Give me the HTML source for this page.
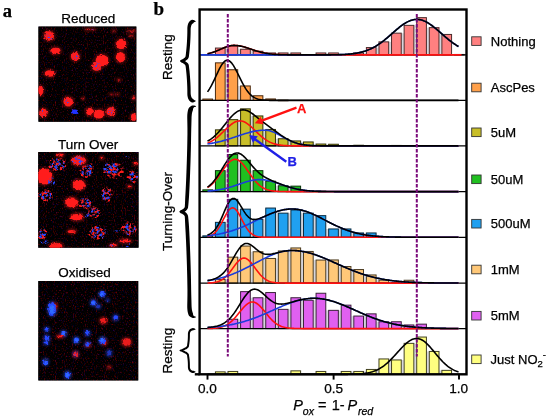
<!DOCTYPE html>
<html><head><meta charset="utf-8"><style>
html,body{margin:0;padding:0;background:#fff;width:550px;height:420px;overflow:hidden;}
svg{display:block;font-family:"Liberation Sans",sans-serif;will-change:transform;}
text{stroke:#000;stroke-width:.25px;}
text.r{stroke:#ff1010;}
text.b{stroke:#2020e6;}
</style></head><body>
<svg width="550" height="420" viewBox="0 0 550 420">
<defs><filter id="bl1" x="-50%" y="-50%" width="200%" height="200%"><feGaussianBlur stdDeviation="1.1"/></filter><filter id="bl2" x="-50%" y="-50%" width="200%" height="200%"><feGaussianBlur stdDeviation="0.6"/></filter><filter id="rough" x="-30%" y="-30%" width="160%" height="160%"><feTurbulence type="fractalNoise" baseFrequency="0.45" numOctaves="2" seed="2" result="n"/><feDisplacementMap in="SourceGraphic" in2="n" scale="3.5" xChannelSelector="R" yChannelSelector="G" result="d"/><feGaussianBlur in="d" stdDeviation="0.75"/></filter><filter id="speck" x="-30%" y="-30%" width="160%" height="160%"><feTurbulence type="fractalNoise" baseFrequency="0.7" numOctaves="1" seed="5" result="n"/><feColorMatrix in="n" type="matrix" values="0 0 0 0 0 0 0 0 0 0 0 0 0 0 0 5 0 0 0 -2.2" result="m"/><feComposite in="SourceGraphic" in2="m" operator="in" result="c"/><feGaussianBlur in="c" stdDeviation="0.45"/></filter><filter id="speck2" x="-30%" y="-30%" width="160%" height="160%"><feTurbulence type="fractalNoise" baseFrequency="0.8" numOctaves="1" seed="9" result="n"/><feColorMatrix in="n" type="matrix" values="0 0 0 0 0 0 0 0 0 0 0 0 0 0 0 6 0 0 0 -3.3" result="m"/><feComposite in="SourceGraphic" in2="m" operator="in" result="c"/><feGaussianBlur in="c" stdDeviation="0.4"/></filter><filter id="speck3" x="-30%" y="-30%" width="160%" height="160%"><feTurbulence type="fractalNoise" baseFrequency="0.38" numOctaves="2" seed="11" result="n"/><feTurbulence type="fractalNoise" baseFrequency="0.3" numOctaves="2" seed="13" result="n2"/><feDisplacementMap in="SourceGraphic" in2="n2" scale="4" xChannelSelector="R" yChannelSelector="G" result="sg"/><feColorMatrix in="n" type="matrix" values="0 0 0 0 0 0 0 0 0 0 0 0 0 0 0 5 0 0 0 -2.35" result="m"/><feComposite in="sg" in2="m" operator="in" result="c"/><feGaussianBlur in="c" stdDeviation="0.5"/></filter><filter id="rspeck" x="-30%" y="-30%" width="160%" height="160%"><feTurbulence type="fractalNoise" baseFrequency="0.38" numOctaves="2" seed="21" result="n"/><feTurbulence type="fractalNoise" baseFrequency="0.3" numOctaves="2" seed="17" result="n2"/><feDisplacementMap in="SourceGraphic" in2="n2" scale="4.5" xChannelSelector="R" yChannelSelector="G" result="sg"/><feColorMatrix in="n" type="matrix" values="0 0 0 0 0 0 0 0 0 0 0 0 0 0 0 0 5 0 0 -2.25" result="m"/><feComposite in="sg" in2="m" operator="in" result="c"/><feGaussianBlur in="c" stdDeviation="0.45"/></filter><filter id="bgn" x="0" y="0" width="100%" height="100%" color-interpolation-filters="sRGB"><feTurbulence type="fractalNoise" baseFrequency="0.9 0.5" numOctaves="2" seed="31" result="n"/><feColorMatrix in="n" type="matrix" values="1.3 0 0 0 -0.70  0 0 0 0 0  0 0.9 0 0 -0.53  0 0 0 0 1"/><feGaussianBlur stdDeviation="0.45"/></filter><filter id="soft" x="-40%" y="-40%" width="180%" height="180%"><feTurbulence type="fractalNoise" baseFrequency="0.45" numOctaves="2" seed="4" result="n"/><feDisplacementMap in="SourceGraphic" in2="n" scale="2.5" xChannelSelector="R" yChannelSelector="G" result="d"/><feGaussianBlur in="d" stdDeviation="1.0"/></filter><clipPath id="c1"><rect x="38.4" y="26.4" width="98" height="95.4"/></clipPath><clipPath id="c2"><rect x="38.2" y="152" width="100.4" height="95.7"/></clipPath><clipPath id="c3"><rect x="38.3" y="280.9" width="100" height="99.6"/></clipPath></defs>
<rect width="550" height="420" fill="#fff"/>
<text x="2.7" y="16.6" font-family="Liberation Serif, serif" font-weight="bold" font-size="18.5">a</text>
<text x="153.6" y="15" font-family="Liberation Serif, serif" font-weight="bold" font-size="19">b</text>
<text x="88.3" y="23.4" font-family="Liberation Sans, sans-serif" font-size="13.5" text-anchor="middle">Reduced</text>
<text x="88.2" y="149" font-family="Liberation Sans, sans-serif" font-size="13.5" text-anchor="middle">Turn Over</text>
<text x="84.6" y="277.3" font-family="Liberation Sans, sans-serif" font-size="13.5" text-anchor="middle">Oxidised</text>
<g clip-path="url(#c1)">
<rect x="38.4" y="26.4" width="98" height="95.4" fill="#000"/>
<rect x="38.4" y="26.4" width="98" height="95.4" fill="#000" filter="url(#bgn)"/>
<g filter="url(#bl1)" opacity="0.3">
<ellipse cx="49.1" cy="35.9" rx="6.53" ry="6.35" fill="#ff1e1e"/>
<ellipse cx="55.6" cy="50.8" rx="6.88" ry="4.77" fill="#ff1e1e"/>
<ellipse cx="75.2" cy="56.5" rx="5.82" ry="6" fill="#ff1e1e"/>
<ellipse cx="102" cy="60.5" rx="7.94" ry="7.41" fill="#ff1e1e"/>
<ellipse cx="96.5" cy="66.5" rx="6.18" ry="6" fill="#ff1e1e"/>
<ellipse cx="121.1" cy="44.2" rx="6.7" ry="6.7" fill="#ff1e1e"/>
<ellipse cx="120.5" cy="57.3" rx="6.18" ry="6.7" fill="#ff1e1e"/>
<ellipse cx="49.6" cy="73.5" rx="6.53" ry="4.77" fill="#ff1e1e"/>
<ellipse cx="40.6" cy="90.6" rx="4.06" ry="6.35" fill="#ff1e1e"/>
<ellipse cx="68.2" cy="101.7" rx="6.35" ry="6.35" fill="#ff1e1e"/>
<ellipse cx="43.4" cy="112.9" rx="5.82" ry="5.82" fill="#ff1e1e"/>
<ellipse cx="89.7" cy="111.7" rx="5.12" ry="5.3" fill="#ff1e1e"/>
<ellipse cx="99" cy="114.1" rx="6.88" ry="6" fill="#ff1e1e"/>
<ellipse cx="110.8" cy="111.7" rx="6" ry="6" fill="#ff1e1e"/>
<ellipse cx="133.6" cy="117.2" rx="4.24" ry="5.3" fill="#ff1e1e"/>
<ellipse cx="133.7" cy="98" rx="3.01" ry="3.01" fill="#ff1e1e"/>
<ellipse cx="118.8" cy="80" rx="2.66" ry="2.39" fill="#ff1e1e"/>
<ellipse cx="83.1" cy="98.6" rx="2.48" ry="2.48" fill="#ff1e1e"/>
<ellipse cx="131.2" cy="31.1" rx="5.82" ry="2.22" fill="#ff1e1e"/>
<ellipse cx="131.2" cy="35.9" rx="3.54" ry="2.22" fill="#ff1e1e"/>
<ellipse cx="90.8" cy="29.4" rx="6" ry="2.04" fill="#ff1e1e"/>
<ellipse cx="114" cy="31.1" rx="2.66" ry="2.3" fill="#ff1e1e"/>
<ellipse cx="111.4" cy="94.3" rx="2.92" ry="2.04" fill="#ff1e1e"/>
<ellipse cx="117.6" cy="94.3" rx="2.92" ry="2.04" fill="#ff1e1e"/>
<ellipse cx="87.1" cy="29.4" rx="3.36" ry="2.13" fill="#ff1e1e"/>
</g>
<g filter="url(#rough)">
<ellipse cx="49.1" cy="35.9" rx="4.93" ry="4.75" fill="#ff1e1e" opacity="1"/>
<ellipse cx="55.6" cy="50.8" rx="5.28" ry="3.17" fill="#ff1e1e" opacity="1"/>
<ellipse cx="75.2" cy="56.5" rx="4.22" ry="4.4" fill="#ff1e1e" opacity="1"/>
<ellipse cx="102" cy="60.5" rx="6.34" ry="5.81" fill="#ff1e1e" opacity="1"/>
<ellipse cx="96.5" cy="66.5" rx="4.58" ry="4.4" fill="#ff1e1e" opacity="1"/>
<ellipse cx="121.1" cy="44.2" rx="5.1" ry="5.1" fill="#ff1e1e" opacity="1"/>
<ellipse cx="120.5" cy="57.3" rx="4.58" ry="5.1" fill="#ff1e1e" opacity="1"/>
<ellipse cx="49.6" cy="73.5" rx="4.93" ry="3.17" fill="#ff1e1e" opacity="1"/>
<ellipse cx="40.6" cy="90.6" rx="2.46" ry="4.75" fill="#ff1e1e" opacity="1"/>
<ellipse cx="68.2" cy="101.7" rx="4.75" ry="4.75" fill="#ff1e1e" opacity="1"/>
<ellipse cx="43.4" cy="112.9" rx="4.22" ry="4.22" fill="#ff1e1e" opacity="1"/>
<ellipse cx="89.7" cy="111.7" rx="3.52" ry="3.7" fill="#ff1e1e" opacity="1"/>
<ellipse cx="99" cy="114.1" rx="5.28" ry="4.4" fill="#ff1e1e" opacity="1"/>
<ellipse cx="110.8" cy="111.7" rx="4.4" ry="4.4" fill="#ff1e1e" opacity="1"/>
<ellipse cx="133.6" cy="117.2" rx="2.64" ry="3.7" fill="#ff1e1e" opacity="1"/>
<ellipse cx="133.7" cy="98" rx="1.41" ry="1.41" fill="#ff1e1e" opacity="0.8"/>
<ellipse cx="118.8" cy="80" rx="1.06" ry="0.79" fill="#ff1e1e" opacity="0.7"/>
<ellipse cx="83.1" cy="98.6" rx="0.88" ry="0.88" fill="#ff1e1e" opacity="0.6"/>
<ellipse cx="75" cy="111.7" rx="3.17" ry="2.29" fill="#2030ff" opacity="1"/>
<ellipse cx="131.2" cy="31.1" rx="4.22" ry="0.62" fill="#ff1e1e" opacity="0.8"/>
<ellipse cx="131.2" cy="35.9" rx="1.94" ry="0.62" fill="#ff1e1e" opacity="0.7"/>
<ellipse cx="90.8" cy="29.4" rx="4.4" ry="0.44" fill="#ff1e1e" opacity="0.6"/>
<ellipse cx="114" cy="31.1" rx="1.06" ry="0.7" fill="#ff1e1e" opacity="0.5"/>
<ellipse cx="111.4" cy="94.3" rx="1.32" ry="0.44" fill="#ff1e1e" opacity="0.6"/>
<ellipse cx="117.6" cy="94.3" rx="1.32" ry="0.44" fill="#ff1e1e" opacity="0.6"/>
<ellipse cx="87.1" cy="29.4" rx="1.76" ry="0.53" fill="#ff1e1e" opacity="0.7"/>
</g>
<g filter="url(#speck2)">
<ellipse cx="68.2" cy="100.5" rx="2.99" ry="2.82" fill="#2848ff" opacity="1"/>
<ellipse cx="43.4" cy="112.9" rx="2.82" ry="2.82" fill="#2848ff" opacity="1"/>
<ellipse cx="75.2" cy="56.5" rx="2.99" ry="2.99" fill="#2848ff" opacity="1"/>
<ellipse cx="49.1" cy="36.5" rx="3.7" ry="3.7" fill="#2848ff" opacity="1"/>
<ellipse cx="97" cy="66" rx="3.96" ry="3.96" fill="#2848ff" opacity="1"/>
<ellipse cx="110.8" cy="111.7" rx="3.08" ry="3.08" fill="#2848ff" opacity="1"/>
<ellipse cx="90.8" cy="29.4" rx="4.4" ry="0.53" fill="#2848ff" opacity="0.8"/>
</g>
</g>
<g clip-path="url(#c2)">
<rect x="38.2" y="152" width="100.4" height="95.7" fill="#000"/>
<rect x="38.2" y="152" width="100.4" height="95.7" fill="#000" filter="url(#bgn)"/>
<g filter="url(#bl1)" opacity="0.35">
<ellipse cx="78.9" cy="160.7" rx="8.8" ry="6" fill="#ff1e1e"/>
<ellipse cx="60.3" cy="155" rx="5.1" ry="3.2" fill="#ff1e1e"/>
<ellipse cx="44.3" cy="176.5" rx="9.2" ry="9.6" fill="#ff1e1e"/>
<ellipse cx="78.9" cy="185" rx="7.6" ry="6.6" fill="#ff1e1e"/>
<ellipse cx="136" cy="163.6" rx="3.8" ry="2.6" fill="#ff1e1e"/>
<ellipse cx="101.7" cy="157.9" rx="2.9" ry="2.6" fill="#ff1e1e"/>
<ellipse cx="129.6" cy="186.4" rx="3.6" ry="2.4" fill="#ff1e1e"/>
<ellipse cx="71.7" cy="202.5" rx="7.9" ry="6.6" fill="#ff1e1e"/>
<ellipse cx="77" cy="217.2" rx="7.9" ry="4.9" fill="#ff1e1e"/>
<ellipse cx="71.7" cy="231.5" rx="5.6" ry="3.2" fill="#ff1e1e"/>
<ellipse cx="56.2" cy="246" rx="8.1" ry="4.6" fill="#ff1e1e"/>
<ellipse cx="125.2" cy="241" rx="7.6" ry="3.1" fill="#ff1e1e"/>
<ellipse cx="113.3" cy="245.2" rx="5.1" ry="2.8" fill="#ff1e1e"/>
</g>
<g filter="url(#rough)">
<ellipse cx="78.9" cy="160.7" rx="7.2" ry="4.4" fill="#ff1e1e" opacity="1"/>
<ellipse cx="60.3" cy="155" rx="3.5" ry="1.6" fill="#ff1e1e" opacity="1"/>
<ellipse cx="44.3" cy="176.5" rx="7.6" ry="8" fill="#ff1e1e" opacity="1"/>
<ellipse cx="78.9" cy="185" rx="6" ry="5" fill="#ff1e1e" opacity="1"/>
<ellipse cx="136" cy="163.6" rx="2.2" ry="1" fill="#ff1e1e" opacity="1"/>
<ellipse cx="101.7" cy="157.9" rx="1.3" ry="1" fill="#ff1e1e" opacity="1"/>
<ellipse cx="129.6" cy="186.4" rx="2" ry="0.8" fill="#ff1e1e" opacity="1"/>
<ellipse cx="71.7" cy="202.5" rx="6.3" ry="5" fill="#ff1e1e" opacity="1"/>
<ellipse cx="77" cy="217.2" rx="6.3" ry="3.3" fill="#ff1e1e" opacity="1"/>
<ellipse cx="71.7" cy="231.5" rx="4" ry="1.6" fill="#ff1e1e" opacity="1"/>
<ellipse cx="56.2" cy="246" rx="6.5" ry="3" fill="#ff1e1e" opacity="1"/>
<ellipse cx="125.2" cy="241" rx="6" ry="1.5" fill="#ff1e1e" opacity="1"/>
<ellipse cx="113.3" cy="245.2" rx="3.5" ry="1.2" fill="#ff1e1e" opacity="1"/>
</g>
<g filter="url(#rspeck)">
<ellipse cx="57.4" cy="164.5" rx="9.1" ry="6.5" fill="#ff1e1e" opacity="1"/>
<ellipse cx="45.3" cy="195.7" rx="7.54" ry="6.24" fill="#ff1e1e" opacity="1"/>
<ellipse cx="86" cy="171.4" rx="5.72" ry="6.5" fill="#ff1e1e" opacity="1"/>
<ellipse cx="88.9" cy="170" rx="4.16" ry="7.15" fill="#ff1e1e" opacity="1"/>
<ellipse cx="113.9" cy="170.7" rx="10.14" ry="8.06" fill="#ff1e1e" opacity="1"/>
<ellipse cx="133.1" cy="177.1" rx="5.2" ry="5.98" fill="#ff1e1e" opacity="1"/>
<ellipse cx="106.7" cy="194.3" rx="5.98" ry="7.02" fill="#ff1e1e" opacity="1"/>
<ellipse cx="84.8" cy="203.6" rx="6.5" ry="5.72" fill="#ff1e1e" opacity="1"/>
<ellipse cx="93.7" cy="212.5" rx="6.5" ry="5.72" fill="#ff1e1e" opacity="1"/>
<ellipse cx="41.4" cy="233.9" rx="5.2" ry="5.98" fill="#ff1e1e" opacity="1"/>
<ellipse cx="97.3" cy="232.7" rx="8.32" ry="7.02" fill="#ff1e1e" opacity="1"/>
<ellipse cx="128.8" cy="228.5" rx="8.32" ry="6.24" fill="#ff1e1e" opacity="1"/>
</g>
<g filter="url(#speck3)">
<ellipse cx="57" cy="164" rx="7.54" ry="5.46" fill="#2848ff" opacity="1"/>
<ellipse cx="78" cy="160.5" rx="6.24" ry="4.16" fill="#2848ff" opacity="1"/>
<ellipse cx="51.5" cy="181.5" rx="3.64" ry="4.94" fill="#2848ff" opacity="1"/>
<ellipse cx="45.3" cy="195.7" rx="5.98" ry="4.68" fill="#2848ff" opacity="1"/>
<ellipse cx="86.5" cy="171" rx="4.94" ry="4.94" fill="#2848ff" opacity="1"/>
<ellipse cx="89" cy="170" rx="3.12" ry="5.2" fill="#2848ff" opacity="1"/>
<ellipse cx="111" cy="168.5" rx="8.06" ry="5.98" fill="#2848ff" opacity="1"/>
<ellipse cx="133.1" cy="176.5" rx="4.16" ry="4.68" fill="#2848ff" opacity="1"/>
<ellipse cx="106.7" cy="194.3" rx="4.94" ry="5.72" fill="#2848ff" opacity="1"/>
<ellipse cx="128.9" cy="156.4" rx="3.25" ry="1.04" fill="#2848ff" opacity="1"/>
<ellipse cx="86" cy="203" rx="5.2" ry="4.68" fill="#2848ff" opacity="1"/>
<ellipse cx="93.7" cy="212.5" rx="4.94" ry="4.68" fill="#2848ff" opacity="1"/>
<ellipse cx="41.4" cy="233.5" rx="4.16" ry="4.42" fill="#2848ff" opacity="1"/>
<ellipse cx="44.3" cy="241.6" rx="3.64" ry="2.6" fill="#2848ff" opacity="1"/>
<ellipse cx="87.1" cy="215.5" rx="1.82" ry="1.82" fill="#2848ff" opacity="1"/>
<ellipse cx="97.3" cy="232.7" rx="6.76" ry="5.98" fill="#2848ff" opacity="1"/>
<ellipse cx="105" cy="231.5" rx="3.12" ry="2.08" fill="#2848ff" opacity="1"/>
<ellipse cx="129.5" cy="229.5" rx="5.98" ry="4.68" fill="#2848ff" opacity="1"/>
<ellipse cx="112" cy="245.2" rx="2.6" ry="1.3" fill="#2848ff" opacity="1"/>
<ellipse cx="128.2" cy="245.8" rx="2.34" ry="1.95" fill="#2848ff" opacity="1"/>
<ellipse cx="116.9" cy="231" rx="3.9" ry="0.91" fill="#2848ff" opacity="0.6"/>
</g>
</g>
<g clip-path="url(#c3)">
<rect x="38.3" y="280.9" width="100" height="99.6" fill="#000"/>
<rect x="38.3" y="280.9" width="100" height="99.6" fill="#000" filter="url(#bgn)"/>
<g filter="url(#bl1)" opacity="0.4">
<ellipse cx="52.1" cy="309" rx="5.56" ry="8.48" fill="#2848ff"/>
<ellipse cx="52.1" cy="309.5" rx="4.01" ry="5.9" fill="#2f6cff"/>
<ellipse cx="55" cy="306" rx="3.49" ry="3.75" fill="#ff1e1e"/>
<ellipse cx="102.1" cy="294.1" rx="4.18" ry="4.18" fill="#2848ff"/>
<ellipse cx="101.8" cy="294.1" rx="3.15" ry="3.15" fill="#2f6cff"/>
<ellipse cx="93.4" cy="302.8" rx="4.01" ry="4.18" fill="#2848ff"/>
<ellipse cx="93.4" cy="302.8" rx="3.06" ry="3.15" fill="#2f6cff"/>
<ellipse cx="98.4" cy="306.5" rx="3.15" ry="3.15" fill="#2848ff"/>
<ellipse cx="103.3" cy="320.8" rx="4.87" ry="4.18" fill="#ff1e1e"/>
<ellipse cx="115.7" cy="317.7" rx="3.84" ry="4.01" fill="#2848ff"/>
<ellipse cx="107.7" cy="300.3" rx="2.46" ry="2.46" fill="#2848ff"/>
<ellipse cx="46.9" cy="329.3" rx="3.66" ry="3.15" fill="#2848ff"/>
<ellipse cx="46.9" cy="338.3" rx="3.84" ry="4.18" fill="#2848ff"/>
<ellipse cx="46.3" cy="342.8" rx="3.49" ry="3.32" fill="#2848ff"/>
<ellipse cx="63.6" cy="333.8" rx="4.01" ry="4.01" fill="#2848ff"/>
<ellipse cx="63.6" cy="333.8" rx="3.06" ry="3.06" fill="#2f6cff"/>
<ellipse cx="59.8" cy="336.4" rx="4.35" ry="2.46" fill="#ff1e1e"/>
<ellipse cx="76.5" cy="340.2" rx="4.18" ry="4.18" fill="#2848ff"/>
<ellipse cx="76.5" cy="340.2" rx="3.15" ry="3.15" fill="#2f6cff"/>
<ellipse cx="87.4" cy="333.3" rx="3.66" ry="3.84" fill="#2848ff"/>
<ellipse cx="87.6" cy="344.4" rx="3.84" ry="3.84" fill="#2848ff"/>
<ellipse cx="88.5" cy="345.5" rx="2.89" ry="2.63" fill="#ff1e1e"/>
<ellipse cx="75.8" cy="354.3" rx="3.84" ry="4.35" fill="#ff1e1e"/>
<ellipse cx="75.8" cy="354" rx="2.89" ry="3.15" fill="#2848ff"/>
<ellipse cx="45.6" cy="362" rx="4.01" ry="4.18" fill="#2848ff"/>
<ellipse cx="45.6" cy="362" rx="3.06" ry="3.15" fill="#2f6cff"/>
<ellipse cx="67.5" cy="374.9" rx="4.35" ry="4.87" fill="#2848ff"/>
<ellipse cx="67.5" cy="375" rx="3.32" ry="3.66" fill="#2f6cff"/>
<ellipse cx="102.7" cy="340.9" rx="4.87" ry="4.87" fill="#2848ff"/>
<ellipse cx="102.2" cy="340" rx="3.49" ry="3.49" fill="#2f6cff"/>
<ellipse cx="104.5" cy="342.5" rx="3.49" ry="3.49" fill="#ff1e1e"/>
<ellipse cx="126.5" cy="342.1" rx="6.07" ry="5.38" fill="#ff1e1e"/>
<ellipse cx="109.1" cy="353.1" rx="3.66" ry="4.18" fill="#2848ff"/>
<ellipse cx="109.1" cy="367.2" rx="2.63" ry="2.63" fill="#ff1e1e"/>
</g>
<g filter="url(#rough)">
<ellipse cx="55" cy="306" rx="1.89" ry="2.15" fill="#ff1e1e" opacity="0.7"/>
<ellipse cx="103.3" cy="320.8" rx="3.27" ry="2.58" fill="#ff1e1e" opacity="0.85"/>
<ellipse cx="59.8" cy="336.4" rx="2.75" ry="0.86" fill="#ff1e1e" opacity="1"/>
<ellipse cx="88.5" cy="345.5" rx="1.29" ry="1.03" fill="#ff1e1e" opacity="0.7"/>
<ellipse cx="75.8" cy="354.3" rx="2.24" ry="2.75" fill="#ff1e1e" opacity="1"/>
<ellipse cx="104.5" cy="342.5" rx="1.89" ry="1.89" fill="#ff1e1e" opacity="0.7"/>
<ellipse cx="126.5" cy="342.1" rx="4.47" ry="3.78" fill="#ff1e1e" opacity="0.85"/>
<ellipse cx="109.1" cy="367.2" rx="1.03" ry="1.03" fill="#ff1e1e" opacity="0.5"/>
</g>
<g filter="url(#rough)">
<ellipse cx="52.1" cy="309" rx="3.96" ry="6.88" fill="#2848ff" opacity="1"/>
<ellipse cx="52.1" cy="309.5" rx="2.41" ry="4.3" fill="#2f6cff" opacity="1"/>
<ellipse cx="102.1" cy="294.1" rx="2.58" ry="2.58" fill="#2848ff" opacity="1"/>
<ellipse cx="101.8" cy="294.1" rx="1.55" ry="1.55" fill="#2f6cff" opacity="1"/>
<ellipse cx="93.4" cy="302.8" rx="2.41" ry="2.58" fill="#2848ff" opacity="1"/>
<ellipse cx="93.4" cy="302.8" rx="1.46" ry="1.55" fill="#2f6cff" opacity="1"/>
<ellipse cx="98.4" cy="306.5" rx="1.55" ry="1.55" fill="#2848ff" opacity="0.5"/>
<ellipse cx="115.7" cy="317.7" rx="2.24" ry="2.41" fill="#2848ff" opacity="1"/>
<ellipse cx="107.7" cy="300.3" rx="0.86" ry="0.86" fill="#2848ff" opacity="0.6"/>
<ellipse cx="46.9" cy="329.3" rx="2.06" ry="1.55" fill="#2848ff" opacity="1"/>
<ellipse cx="46.9" cy="338.3" rx="2.24" ry="2.58" fill="#2848ff" opacity="1"/>
<ellipse cx="46.3" cy="342.8" rx="1.89" ry="1.72" fill="#2848ff" opacity="1"/>
<ellipse cx="63.6" cy="333.8" rx="2.41" ry="2.41" fill="#2848ff" opacity="1"/>
<ellipse cx="63.6" cy="333.8" rx="1.46" ry="1.46" fill="#2f6cff" opacity="1"/>
<ellipse cx="76.5" cy="340.2" rx="2.58" ry="2.58" fill="#2848ff" opacity="1"/>
<ellipse cx="76.5" cy="340.2" rx="1.55" ry="1.55" fill="#2f6cff" opacity="1"/>
<ellipse cx="87.4" cy="333.3" rx="2.06" ry="2.24" fill="#2848ff" opacity="1"/>
<ellipse cx="87.6" cy="344.4" rx="2.24" ry="2.24" fill="#2848ff" opacity="1"/>
<ellipse cx="75.8" cy="354" rx="1.29" ry="1.55" fill="#2848ff" opacity="0.8"/>
<ellipse cx="45.6" cy="362" rx="2.41" ry="2.58" fill="#2848ff" opacity="1"/>
<ellipse cx="45.6" cy="362" rx="1.46" ry="1.55" fill="#2f6cff" opacity="1"/>
<ellipse cx="67.5" cy="374.9" rx="2.75" ry="3.27" fill="#2848ff" opacity="1"/>
<ellipse cx="67.5" cy="375" rx="1.72" ry="2.06" fill="#2f6cff" opacity="1"/>
<ellipse cx="102.7" cy="340.9" rx="3.27" ry="3.27" fill="#2848ff" opacity="1"/>
<ellipse cx="102.2" cy="340" rx="1.89" ry="1.89" fill="#2f6cff" opacity="1"/>
<ellipse cx="109.1" cy="353.1" rx="2.06" ry="2.58" fill="#2848ff" opacity="0.55"/>
</g>
</g>
<rect x="225.58" y="48.1" width="1.98" height="6.8" fill="#d6d6de"/>
<rect x="238.16" y="49.3" width="1.98" height="5.6" fill="#d6d6de"/>
<rect x="250.74" y="51.3" width="1.98" height="3.6" fill="#d6d6de"/>
<rect x="263.32" y="53" width="1.98" height="1.9" fill="#d6d6de"/>
<rect x="275.9" y="53" width="1.98" height="1.9" fill="#d6d6de"/>
<rect x="288.48" y="53" width="1.98" height="1.9" fill="#d6d6de"/>
<rect x="326.22" y="53" width="1.98" height="1.9" fill="#d6d6de"/>
<rect x="363.96" y="53" width="1.98" height="1.9" fill="#d6d6de"/>
<rect x="376.54" y="47.6" width="1.98" height="7.3" fill="#d6d6de"/>
<rect x="389.12" y="41.9" width="1.98" height="13" fill="#d6d6de"/>
<rect x="401.7" y="33.2" width="1.98" height="21.7" fill="#d6d6de"/>
<rect x="414.28" y="25.4" width="1.98" height="29.5" fill="#d6d6de"/>
<rect x="426.86" y="27.7" width="1.98" height="27.2" fill="#d6d6de"/>
<rect x="439.44" y="34.5" width="1.98" height="20.4" fill="#d6d6de"/>
<rect x="215.43" y="48.05" width="9.7" height="6.85" fill="#ff8080" stroke="#4a2a2a" stroke-width="1"/>
<rect x="228.01" y="46.05" width="9.7" height="8.85" fill="#ff8080" stroke="#4a2a2a" stroke-width="1"/>
<rect x="240.59" y="49.25" width="9.7" height="5.65" fill="#ff8080" stroke="#4a2a2a" stroke-width="1"/>
<rect x="253.17" y="51.25" width="9.7" height="3.65" fill="#ff8080" stroke="#4a2a2a" stroke-width="1"/>
<rect x="265.75" y="52.95" width="9.7" height="1.95" fill="#ff8080" stroke="#4a2a2a" stroke-width="1"/>
<rect x="278.33" y="52.95" width="9.7" height="1.95" fill="#ff8080" stroke="#4a2a2a" stroke-width="1"/>
<rect x="290.91" y="52.95" width="9.7" height="1.95" fill="#ff8080" stroke="#4a2a2a" stroke-width="1"/>
<rect x="316.07" y="52.95" width="9.7" height="1.95" fill="#ff8080" stroke="#4a2a2a" stroke-width="1"/>
<rect x="328.65" y="52.95" width="9.7" height="1.95" fill="#ff8080" stroke="#4a2a2a" stroke-width="1"/>
<rect x="353.81" y="52.95" width="9.7" height="1.95" fill="#ff8080" stroke="#4a2a2a" stroke-width="1"/>
<rect x="366.39" y="47.55" width="9.7" height="7.35" fill="#ff8080" stroke="#4a2a2a" stroke-width="1"/>
<rect x="378.97" y="41.85" width="9.7" height="13.05" fill="#ff8080" stroke="#4a2a2a" stroke-width="1"/>
<rect x="391.55" y="33.15" width="9.7" height="21.75" fill="#ff8080" stroke="#4a2a2a" stroke-width="1"/>
<rect x="404.13" y="25.35" width="9.7" height="29.55" fill="#ff8080" stroke="#4a2a2a" stroke-width="1"/>
<rect x="416.71" y="17.65" width="9.7" height="37.25" fill="#ff8080" stroke="#4a2a2a" stroke-width="1"/>
<rect x="429.29" y="27.65" width="9.7" height="27.25" fill="#ff8080" stroke="#4a2a2a" stroke-width="1"/>
<rect x="441.87" y="34.45" width="9.7" height="20.45" fill="#ff8080" stroke="#4a2a2a" stroke-width="1"/>
<rect x="454.45" y="54.45" width="9.7" height="0.6" fill="#ff8080" stroke="#4a2a2a" stroke-width="1"/>
<rect x="213" y="99.1" width="1.98" height="1.3" fill="#d6d6de"/>
<rect x="225.58" y="69.8" width="1.98" height="30.6" fill="#d6d6de"/>
<rect x="238.16" y="86" width="1.98" height="14.4" fill="#d6d6de"/>
<rect x="250.74" y="95.8" width="1.98" height="4.6" fill="#d6d6de"/>
<rect x="263.32" y="99" width="1.98" height="1.4" fill="#d6d6de"/>
<rect x="202.85" y="99.05" width="9.7" height="1.35" fill="#ffa04a" stroke="#4a2a10" stroke-width="1"/>
<rect x="215.43" y="62.85" width="9.7" height="37.55" fill="#ffa04a" stroke="#4a2a10" stroke-width="1"/>
<rect x="228.01" y="69.75" width="9.7" height="30.65" fill="#ffa04a" stroke="#4a2a10" stroke-width="1"/>
<rect x="240.59" y="85.95" width="9.7" height="14.45" fill="#ffa04a" stroke="#4a2a10" stroke-width="1"/>
<rect x="253.17" y="95.75" width="9.7" height="4.65" fill="#ffa04a" stroke="#4a2a10" stroke-width="1"/>
<rect x="265.75" y="98.95" width="9.7" height="1.45" fill="#ffa04a" stroke="#4a2a10" stroke-width="1"/>
<rect x="278.33" y="100.15" width="9.7" height="0.6" fill="#ffa04a" stroke="#4a2a10" stroke-width="1"/>
<rect x="225.58" y="129.9" width="1.98" height="16" fill="#d6d6de"/>
<rect x="238.16" y="119.7" width="1.98" height="26.2" fill="#d6d6de"/>
<rect x="250.74" y="116" width="1.98" height="29.9" fill="#d6d6de"/>
<rect x="263.32" y="129.5" width="1.98" height="16.4" fill="#d6d6de"/>
<rect x="275.9" y="138.8" width="1.98" height="7.1" fill="#d6d6de"/>
<rect x="288.48" y="141" width="1.98" height="4.9" fill="#d6d6de"/>
<rect x="301.06" y="142" width="1.98" height="3.9" fill="#d6d6de"/>
<rect x="313.64" y="144.1" width="1.98" height="1.8" fill="#d6d6de"/>
<rect x="326.22" y="144.3" width="1.98" height="1.6" fill="#d6d6de"/>
<rect x="215.43" y="129.85" width="9.7" height="16.05" fill="#c8be28" stroke="#30300a" stroke-width="1"/>
<rect x="228.01" y="119.65" width="9.7" height="26.25" fill="#c8be28" stroke="#30300a" stroke-width="1"/>
<rect x="240.59" y="108.85" width="9.7" height="37.05" fill="#c8be28" stroke="#30300a" stroke-width="1"/>
<rect x="253.17" y="115.95" width="9.7" height="29.95" fill="#c8be28" stroke="#30300a" stroke-width="1"/>
<rect x="265.75" y="129.45" width="9.7" height="16.45" fill="#c8be28" stroke="#30300a" stroke-width="1"/>
<rect x="278.33" y="138.75" width="9.7" height="7.15" fill="#c8be28" stroke="#30300a" stroke-width="1"/>
<rect x="290.91" y="140.95" width="9.7" height="4.95" fill="#c8be28" stroke="#30300a" stroke-width="1"/>
<rect x="303.49" y="141.95" width="9.7" height="3.95" fill="#c8be28" stroke="#30300a" stroke-width="1"/>
<rect x="316.07" y="144.05" width="9.7" height="1.85" fill="#c8be28" stroke="#30300a" stroke-width="1"/>
<rect x="328.65" y="144.25" width="9.7" height="1.65" fill="#c8be28" stroke="#30300a" stroke-width="1"/>
<rect x="353.81" y="145.25" width="9.7" height="0.65" fill="#c8be28" stroke="#30300a" stroke-width="1"/>
<rect x="391.55" y="145.45" width="9.7" height="0.6" fill="#c8be28" stroke="#30300a" stroke-width="1"/>
<rect x="213" y="189.9" width="1.98" height="1.7" fill="#d6d6de"/>
<rect x="225.58" y="170.7" width="1.98" height="20.9" fill="#d6d6de"/>
<rect x="238.16" y="160.3" width="1.98" height="31.3" fill="#d6d6de"/>
<rect x="250.74" y="170.7" width="1.98" height="20.9" fill="#d6d6de"/>
<rect x="263.32" y="181.3" width="1.98" height="10.3" fill="#d6d6de"/>
<rect x="275.9" y="185.8" width="1.98" height="5.8" fill="#d6d6de"/>
<rect x="288.48" y="186.2" width="1.98" height="5.4" fill="#d6d6de"/>
<rect x="301.06" y="191" width="1.98" height="0.6" fill="#d6d6de"/>
<rect x="202.85" y="189.85" width="9.7" height="1.75" fill="#20c020" stroke="#0a300a" stroke-width="1"/>
<rect x="215.43" y="170.65" width="9.7" height="20.95" fill="#20c020" stroke="#0a300a" stroke-width="1"/>
<rect x="228.01" y="154.55" width="9.7" height="37.05" fill="#20c020" stroke="#0a300a" stroke-width="1"/>
<rect x="240.59" y="160.25" width="9.7" height="31.35" fill="#20c020" stroke="#0a300a" stroke-width="1"/>
<rect x="253.17" y="170.65" width="9.7" height="20.95" fill="#20c020" stroke="#0a300a" stroke-width="1"/>
<rect x="265.75" y="181.25" width="9.7" height="10.35" fill="#20c020" stroke="#0a300a" stroke-width="1"/>
<rect x="278.33" y="185.75" width="9.7" height="5.85" fill="#20c020" stroke="#0a300a" stroke-width="1"/>
<rect x="290.91" y="186.15" width="9.7" height="5.45" fill="#20c020" stroke="#0a300a" stroke-width="1"/>
<rect x="303.49" y="190.95" width="9.7" height="0.65" fill="#20c020" stroke="#0a300a" stroke-width="1"/>
<rect x="316.07" y="191.05" width="9.7" height="0.6" fill="#20c020" stroke="#0a300a" stroke-width="1"/>
<rect x="213" y="235.9" width="1.98" height="1.4" fill="#d6d6de"/>
<rect x="225.58" y="222.4" width="1.98" height="14.9" fill="#d6d6de"/>
<rect x="238.16" y="209.2" width="1.98" height="28.1" fill="#d6d6de"/>
<rect x="250.74" y="219.4" width="1.98" height="17.9" fill="#d6d6de"/>
<rect x="263.32" y="219.4" width="1.98" height="17.9" fill="#d6d6de"/>
<rect x="275.9" y="213.2" width="1.98" height="24.1" fill="#d6d6de"/>
<rect x="288.48" y="213.2" width="1.98" height="24.1" fill="#d6d6de"/>
<rect x="301.06" y="213.2" width="1.98" height="24.1" fill="#d6d6de"/>
<rect x="313.64" y="215.7" width="1.98" height="21.6" fill="#d6d6de"/>
<rect x="326.22" y="229" width="1.98" height="8.3" fill="#d6d6de"/>
<rect x="338.8" y="229" width="1.98" height="8.3" fill="#d6d6de"/>
<rect x="351.38" y="233" width="1.98" height="4.3" fill="#d6d6de"/>
<rect x="363.96" y="233" width="1.98" height="4.3" fill="#d6d6de"/>
<rect x="202.85" y="235.85" width="9.7" height="1.45" fill="#20a0f0" stroke="#0a2a40" stroke-width="1"/>
<rect x="215.43" y="222.35" width="9.7" height="14.95" fill="#20a0f0" stroke="#0a2a40" stroke-width="1"/>
<rect x="228.01" y="199.35" width="9.7" height="37.95" fill="#20a0f0" stroke="#0a2a40" stroke-width="1"/>
<rect x="240.59" y="209.15" width="9.7" height="28.15" fill="#20a0f0" stroke="#0a2a40" stroke-width="1"/>
<rect x="253.17" y="219.35" width="9.7" height="17.95" fill="#20a0f0" stroke="#0a2a40" stroke-width="1"/>
<rect x="265.75" y="208.05" width="9.7" height="29.25" fill="#20a0f0" stroke="#0a2a40" stroke-width="1"/>
<rect x="278.33" y="213.15" width="9.7" height="24.15" fill="#20a0f0" stroke="#0a2a40" stroke-width="1"/>
<rect x="290.91" y="209.95" width="9.7" height="27.35" fill="#20a0f0" stroke="#0a2a40" stroke-width="1"/>
<rect x="303.49" y="213.15" width="9.7" height="24.15" fill="#20a0f0" stroke="#0a2a40" stroke-width="1"/>
<rect x="316.07" y="215.65" width="9.7" height="21.65" fill="#20a0f0" stroke="#0a2a40" stroke-width="1"/>
<rect x="328.65" y="228.95" width="9.7" height="8.35" fill="#20a0f0" stroke="#0a2a40" stroke-width="1"/>
<rect x="341.23" y="228.95" width="9.7" height="8.35" fill="#20a0f0" stroke="#0a2a40" stroke-width="1"/>
<rect x="353.81" y="232.95" width="9.7" height="4.35" fill="#20a0f0" stroke="#0a2a40" stroke-width="1"/>
<rect x="366.39" y="232.95" width="9.7" height="4.35" fill="#20a0f0" stroke="#0a2a40" stroke-width="1"/>
<rect x="225.58" y="279.5" width="1.98" height="3.6" fill="#d6d6de"/>
<rect x="238.16" y="257.2" width="1.98" height="25.9" fill="#d6d6de"/>
<rect x="250.74" y="251.8" width="1.98" height="31.3" fill="#d6d6de"/>
<rect x="263.32" y="258.5" width="1.98" height="24.6" fill="#d6d6de"/>
<rect x="275.9" y="258.5" width="1.98" height="24.6" fill="#d6d6de"/>
<rect x="288.48" y="251" width="1.98" height="32.1" fill="#d6d6de"/>
<rect x="301.06" y="251.5" width="1.98" height="31.6" fill="#d6d6de"/>
<rect x="313.64" y="260.1" width="1.98" height="23" fill="#d6d6de"/>
<rect x="326.22" y="260.1" width="1.98" height="23" fill="#d6d6de"/>
<rect x="338.8" y="266.6" width="1.98" height="16.5" fill="#d6d6de"/>
<rect x="351.38" y="269.6" width="1.98" height="13.5" fill="#d6d6de"/>
<rect x="363.96" y="275" width="1.98" height="8.1" fill="#d6d6de"/>
<rect x="376.54" y="280.2" width="1.98" height="2.9" fill="#d6d6de"/>
<rect x="389.12" y="282.5" width="1.98" height="0.6" fill="#d6d6de"/>
<rect x="401.7" y="282.5" width="1.98" height="0.6" fill="#d6d6de"/>
<rect x="215.43" y="279.45" width="9.7" height="3.65" fill="#ffc878" stroke="#4a3a20" stroke-width="1"/>
<rect x="228.01" y="257.15" width="9.7" height="25.95" fill="#ffc878" stroke="#4a3a20" stroke-width="1"/>
<rect x="240.59" y="246.05" width="9.7" height="37.05" fill="#ffc878" stroke="#4a3a20" stroke-width="1"/>
<rect x="253.17" y="251.75" width="9.7" height="31.35" fill="#ffc878" stroke="#4a3a20" stroke-width="1"/>
<rect x="265.75" y="258.45" width="9.7" height="24.65" fill="#ffc878" stroke="#4a3a20" stroke-width="1"/>
<rect x="278.33" y="250.95" width="9.7" height="32.15" fill="#ffc878" stroke="#4a3a20" stroke-width="1"/>
<rect x="290.91" y="247.95" width="9.7" height="35.15" fill="#ffc878" stroke="#4a3a20" stroke-width="1"/>
<rect x="303.49" y="251.45" width="9.7" height="31.65" fill="#ffc878" stroke="#4a3a20" stroke-width="1"/>
<rect x="316.07" y="260.05" width="9.7" height="23.05" fill="#ffc878" stroke="#4a3a20" stroke-width="1"/>
<rect x="328.65" y="259.95" width="9.7" height="23.15" fill="#ffc878" stroke="#4a3a20" stroke-width="1"/>
<rect x="341.23" y="266.55" width="9.7" height="16.55" fill="#ffc878" stroke="#4a3a20" stroke-width="1"/>
<rect x="353.81" y="269.55" width="9.7" height="13.55" fill="#ffc878" stroke="#4a3a20" stroke-width="1"/>
<rect x="366.39" y="274.95" width="9.7" height="8.15" fill="#ffc878" stroke="#4a3a20" stroke-width="1"/>
<rect x="378.97" y="280.15" width="9.7" height="2.95" fill="#ffc878" stroke="#4a3a20" stroke-width="1"/>
<rect x="391.55" y="282.45" width="9.7" height="0.65" fill="#ffc878" stroke="#4a3a20" stroke-width="1"/>
<rect x="404.13" y="280.25" width="9.7" height="2.85" fill="#ffc878" stroke="#4a3a20" stroke-width="1"/>
<rect x="238.16" y="319.3" width="1.98" height="9.3" fill="#d6d6de"/>
<rect x="250.74" y="297.8" width="1.98" height="30.8" fill="#d6d6de"/>
<rect x="263.32" y="297.8" width="1.98" height="30.8" fill="#d6d6de"/>
<rect x="275.9" y="309.4" width="1.98" height="19.2" fill="#d6d6de"/>
<rect x="288.48" y="309.4" width="1.98" height="19.2" fill="#d6d6de"/>
<rect x="301.06" y="300.3" width="1.98" height="28.3" fill="#d6d6de"/>
<rect x="313.64" y="300.3" width="1.98" height="28.3" fill="#d6d6de"/>
<rect x="326.22" y="310.4" width="1.98" height="18.2" fill="#d6d6de"/>
<rect x="338.8" y="310.4" width="1.98" height="18.2" fill="#d6d6de"/>
<rect x="351.38" y="316.1" width="1.98" height="12.5" fill="#d6d6de"/>
<rect x="363.96" y="316.1" width="1.98" height="12.5" fill="#d6d6de"/>
<rect x="376.54" y="321.8" width="1.98" height="6.8" fill="#d6d6de"/>
<rect x="389.12" y="321.8" width="1.98" height="6.8" fill="#d6d6de"/>
<rect x="401.7" y="325" width="1.98" height="3.6" fill="#d6d6de"/>
<rect x="414.28" y="325" width="1.98" height="3.6" fill="#d6d6de"/>
<rect x="228.01" y="319.25" width="9.7" height="9.35" fill="#e060f0" stroke="#3a203a" stroke-width="1"/>
<rect x="240.59" y="291.65" width="9.7" height="36.95" fill="#e060f0" stroke="#3a203a" stroke-width="1"/>
<rect x="253.17" y="297.75" width="9.7" height="30.85" fill="#e060f0" stroke="#3a203a" stroke-width="1"/>
<rect x="265.75" y="292.55" width="9.7" height="36.05" fill="#e060f0" stroke="#3a203a" stroke-width="1"/>
<rect x="278.33" y="309.35" width="9.7" height="19.25" fill="#e060f0" stroke="#3a203a" stroke-width="1"/>
<rect x="290.91" y="297.75" width="9.7" height="30.85" fill="#e060f0" stroke="#3a203a" stroke-width="1"/>
<rect x="303.49" y="300.25" width="9.7" height="28.35" fill="#e060f0" stroke="#3a203a" stroke-width="1"/>
<rect x="316.07" y="293.25" width="9.7" height="35.35" fill="#e060f0" stroke="#3a203a" stroke-width="1"/>
<rect x="328.65" y="310.35" width="9.7" height="18.25" fill="#e060f0" stroke="#3a203a" stroke-width="1"/>
<rect x="341.23" y="305.15" width="9.7" height="23.45" fill="#e060f0" stroke="#3a203a" stroke-width="1"/>
<rect x="353.81" y="316.05" width="9.7" height="12.55" fill="#e060f0" stroke="#3a203a" stroke-width="1"/>
<rect x="366.39" y="313.85" width="9.7" height="14.75" fill="#e060f0" stroke="#3a203a" stroke-width="1"/>
<rect x="378.97" y="321.75" width="9.7" height="6.85" fill="#e060f0" stroke="#3a203a" stroke-width="1"/>
<rect x="391.55" y="321.75" width="9.7" height="6.85" fill="#e060f0" stroke="#3a203a" stroke-width="1"/>
<rect x="404.13" y="324.95" width="9.7" height="3.65" fill="#e060f0" stroke="#3a203a" stroke-width="1"/>
<rect x="416.71" y="324.15" width="9.7" height="4.45" fill="#e060f0" stroke="#3a203a" stroke-width="1"/>
<rect x="225.58" y="371.9" width="1.98" height="2.5" fill="#d6d6de"/>
<rect x="351.38" y="371.5" width="1.98" height="2.9" fill="#d6d6de"/>
<rect x="363.96" y="371.5" width="1.98" height="2.9" fill="#d6d6de"/>
<rect x="376.54" y="369.5" width="1.98" height="4.9" fill="#d6d6de"/>
<rect x="389.12" y="360" width="1.98" height="14.4" fill="#d6d6de"/>
<rect x="401.7" y="360" width="1.98" height="14.4" fill="#d6d6de"/>
<rect x="414.28" y="343.4" width="1.98" height="31" fill="#d6d6de"/>
<rect x="426.86" y="351.5" width="1.98" height="22.9" fill="#d6d6de"/>
<rect x="439.44" y="370.4" width="1.98" height="4" fill="#d6d6de"/>
<rect x="215.43" y="371.85" width="9.7" height="2.55" fill="#ffff80" stroke="#404020" stroke-width="1"/>
<rect x="228.01" y="371.45" width="9.7" height="2.95" fill="#ffff80" stroke="#404020" stroke-width="1"/>
<rect x="290.91" y="370.85" width="9.7" height="3.55" fill="#ffff80" stroke="#404020" stroke-width="1"/>
<rect x="316.07" y="371.45" width="9.7" height="2.95" fill="#ffff80" stroke="#404020" stroke-width="1"/>
<rect x="341.23" y="371.45" width="9.7" height="2.95" fill="#ffff80" stroke="#404020" stroke-width="1"/>
<rect x="353.81" y="371.45" width="9.7" height="2.95" fill="#ffff80" stroke="#404020" stroke-width="1"/>
<rect x="366.39" y="369.45" width="9.7" height="4.95" fill="#ffff80" stroke="#404020" stroke-width="1"/>
<rect x="378.97" y="358.95" width="9.7" height="15.45" fill="#ffff80" stroke="#404020" stroke-width="1"/>
<rect x="391.55" y="359.95" width="9.7" height="14.45" fill="#ffff80" stroke="#404020" stroke-width="1"/>
<rect x="404.13" y="343.35" width="9.7" height="31.05" fill="#ffff80" stroke="#404020" stroke-width="1"/>
<rect x="416.71" y="337.05" width="9.7" height="37.35" fill="#ffff80" stroke="#404020" stroke-width="1"/>
<rect x="429.29" y="351.45" width="9.7" height="22.95" fill="#ffff80" stroke="#404020" stroke-width="1"/>
<rect x="441.87" y="370.35" width="9.7" height="4.05" fill="#ffff80" stroke="#404020" stroke-width="1"/>
<line x1="199.6" y1="54.9" x2="466.5" y2="54.9" stroke="#000" stroke-width="1.3"/>
<line x1="199.6" y1="100.4" x2="466.5" y2="100.4" stroke="#000" stroke-width="1.3"/>
<line x1="199.6" y1="145.9" x2="466.5" y2="145.9" stroke="#000" stroke-width="1.3"/>
<line x1="199.6" y1="191.6" x2="466.5" y2="191.6" stroke="#000" stroke-width="1.3"/>
<line x1="199.6" y1="237.3" x2="466.5" y2="237.3" stroke="#000" stroke-width="1.3"/>
<line x1="199.6" y1="283.1" x2="466.5" y2="283.1" stroke="#000" stroke-width="1.3"/>
<line x1="199.6" y1="328.6" x2="466.5" y2="328.6" stroke="#000" stroke-width="1.3"/>
<path d="M207.5,53.69 L208.5,53.49 L209.5,53.27 L210.5,53.02 L211.5,52.75 L212.5,52.45 L213.5,52.13 L214.5,51.78 L215.5,51.41 L216.5,51.02 L217.5,50.61 L218.5,50.19 L219.5,49.76 L220.5,49.32 L221.5,48.87 L222.5,48.43 L223.5,48 L224.5,47.59 L225.5,47.19 L226.5,46.82 L227.5,46.48 L228.5,46.19 L229.5,45.93 L230.5,45.72 L231.5,45.56 L232.5,45.45 L233.5,45.4 L234.5,45.41 L235.5,45.44 L236.5,45.51 L237.5,45.61 L238.5,45.74 L239.5,45.9 L240.5,46.09 L241.5,46.3 L242.5,46.54 L243.5,46.8 L244.5,47.08 L245.5,47.37 L246.5,47.68 L247.5,48 L248.5,48.33 L249.5,48.66 L250.5,49 L251.5,49.34 L252.5,49.68 L253.5,50.01 L254.5,50.34 L255.5,50.66 L256.5,50.97 L257.5,51.28 L258.5,51.57 L259.5,51.84 L260.5,52.11 L261.5,52.36 L262.5,52.59 L263.5,52.81 L264.5,53.02 L265.5,53.21 L266.5,53.39 L267.5,53.55 L268.5,53.7 L269.5,53.84 L270.5,53.96 L271.5,54.08 L272.5,54.18 L273.5,54.27 L274.5,54.35 L275.5,54.42 L276.5,54.49 L277.5,54.55 L278.5,54.6 L279.5,54.64 L280.5,54.68 L281.5,54.71 L282.5,54.74 L283.5,54.77 L284.5,54.79 L285.5,54.81 L286.5,54.82 L287.5,54.83 L288.5,54.85 L289.5,54.85 L290.5,54.86 L291.5,54.87 L292.5,54.88 L293.5,54.88 L294.5,54.88 L295.5,54.89 L296.5,54.89 L297.5,54.89 L298.5,54.89 L299.5,54.89 L300.5,54.9 L301.5,54.9 L302.5,54.9 L303.5,54.9 L304.5,54.9 L305.5,54.9 L306.5,54.9 L307.5,54.9 L308.5,54.9 L309.5,54.9 L310.5,54.9 L311.5,54.9 L312.5,54.9 L313.5,54.9 L314.5,54.9 L315.5,54.9 L316.5,54.9 L317.5,54.9 L318.5,54.9 L319.5,54.9 L320.5,54.9 L321.5,54.9 L322.5,54.9 L323.5,54.9 L324.5,54.9 L325.5,54.9 L326.5,54.9 L327.5,54.9 L328.5,54.9 L329.5,54.9 L330.5,54.9 L331.5,54.9 L332.5,54.9 L333.5,54.9 L334.5,54.9 L335.5,54.9 L336.5,54.9 L337.5,54.9 L338.5,54.9 L339.5,54.9 L340.5,54.9 L341.5,54.9 L342.5,54.9 L343.5,54.9 L344.5,54.9 L345.5,54.9 L346.5,54.9 L347.5,54.9 L348.5,54.9 L349.5,54.9 L350.5,54.9 L351.5,54.9 L352.5,54.9 L353.5,54.9 L354.5,54.9 L355.5,54.9 L356.5,54.9 L357.5,54.9 L358.5,54.9 L359.5,54.9 L360.5,54.9 L361.5,54.9 L362.5,54.9 L363.5,54.9 L364.5,54.9 L365.5,54.9 L366.5,54.9 L367.5,54.9 L368.5,54.9 L369.5,54.9 L370.5,54.9 L371.5,54.9 L372.5,54.9 L373.5,54.9 L374.5,54.9 L375.5,54.9 L376.5,54.9 L377.5,54.9 L378.5,54.9 L379.5,54.9 L380.5,54.9 L381.5,54.9 L382.5,54.9 L383.5,54.9 L384.5,54.9 L385.5,54.9 L386.5,54.9 L387.5,54.9 L388.5,54.9 L389.5,54.9 L390.5,54.9 L391.5,54.9 L392.5,54.9 L393.5,54.9 L394.5,54.9 L395.5,54.9 L396.5,54.9 L397.5,54.9 L398.5,54.9 L399.5,54.9 L400.5,54.9 L401.5,54.9 L402.5,54.9 L403.5,54.9 L404.5,54.9 L405.5,54.9 L406.5,54.9 L407.5,54.9 L408.5,54.9 L409.5,54.9 L410.5,54.9 L411.5,54.9 L412.5,54.9 L413.5,54.9 L414.5,54.9 L415.5,54.9 L416.5,54.9 L417.5,54.9 L418.5,54.9 L419.5,54.9 L420.5,54.9 L421.5,54.9 L422.5,54.9 L423.5,54.9 L424.5,54.9 L425.5,54.9 L426.5,54.9 L427.5,54.9 L428.5,54.9 L429.5,54.9 L430.5,54.9 L431.5,54.9 L432.5,54.9 L433.5,54.9 L434.5,54.9 L435.5,54.9 L436.5,54.9 L437.5,54.9 L438.5,54.9 L439.5,54.9 L440.5,54.9 L441.5,54.9 L442.5,54.9 L443.5,54.9 L444.5,54.9 L445.5,54.9 L446.5,54.9 L447.5,54.9 L448.5,54.9 L449.5,54.9 L450.5,54.9 L451.5,54.9 L452.5,54.9 L453.5,54.9 L454.5,54.9 L455.5,54.9 L456.5,54.9 L457.5,54.9 L458.5,54.9 L459.5,54.9 L460.5,54.9 L461.5,54.9" fill="none" stroke="#ff1010" stroke-width="1.6"/>
<path d="M200.5,54.9 L201.5,54.9 L202.5,54.9 L203.5,54.9 L204.5,54.9 L205.5,54.9 L206.5,54.9 L207.5,54.9 L208.5,54.9 L209.5,54.9 L210.5,54.9 L211.5,54.9 L212.5,54.9 L213.5,54.9 L214.5,54.9 L215.5,54.9 L216.5,54.9 L217.5,54.9 L218.5,54.9 L219.5,54.9 L220.5,54.9 L221.5,54.9 L222.5,54.9 L223.5,54.9 L224.5,54.9 L225.5,54.9 L226.5,54.9 L227.5,54.9 L228.5,54.9 L229.5,54.9 L230.5,54.9 L231.5,54.9 L232.5,54.9 L233.5,54.9 L234.5,54.9 L235.5,54.9 L236.5,54.9 L237.5,54.9 L238.5,54.9 L239.5,54.9 L240.5,54.9 L241.5,54.9 L242.5,54.9 L243.5,54.9 L244.5,54.9 L245.5,54.9 L246.5,54.9 L247.5,54.9 L248.5,54.9 L249.5,54.9 L250.5,54.9 L251.5,54.9 L252.5,54.9 L253.5,54.9 L254.5,54.9 L255.5,54.9 L256.5,54.9 L257.5,54.9 L258.5,54.9 L259.5,54.9 L260.5,54.9 L261.5,54.9 L262.5,54.9 L263.5,54.9 L264.5,54.9 L265.5,54.9 L266.5,54.9 L267.5,54.9 L268.5,54.9 L269.5,54.9 L270.5,54.9 L271.5,54.9 L272.5,54.9 L273.5,54.9 L274.5,54.9 L275.5,54.9 L276.5,54.9 L277.5,54.9 L278.5,54.9 L279.5,54.9 L280.5,54.9 L281.5,54.9 L282.5,54.9 L283.5,54.9 L284.5,54.9 L285.5,54.9 L286.5,54.9 L287.5,54.9 L288.5,54.9 L289.5,54.9 L290.5,54.9 L291.5,54.9 L292.5,54.9 L293.5,54.9 L294.5,54.9 L295.5,54.9 L296.5,54.9 L297.5,54.9 L298.5,54.9 L299.5,54.9 L300.5,54.9 L301.5,54.9 L302.5,54.9 L303.5,54.9 L304.5,54.9 L305.5,54.9 L306.5,54.9 L307.5,54.9 L308.5,54.9 L309.5,54.9 L310.5,54.9 L311.5,54.9 L312.5,54.9 L313.5,54.9 L314.5,54.89 L315.5,54.89 L316.5,54.89 L317.5,54.89 L318.5,54.89 L319.5,54.89 L320.5,54.88 L321.5,54.88 L322.5,54.88 L323.5,54.87 L324.5,54.87 L325.5,54.87 L326.5,54.86 L327.5,54.85 L328.5,54.85 L329.5,54.84 L330.5,54.83 L331.5,54.82 L332.5,54.8 L333.5,54.79 L334.5,54.77 L335.5,54.76 L336.5,54.73 L337.5,54.71 L338.5,54.69 L339.5,54.66 L340.5,54.62 L341.5,54.58 L342.5,54.54 L343.5,54.5 L344.5,54.44 L345.5,54.39 L346.5,54.32 L347.5,54.25 L348.5,54.17 L349.5,54.08 L350.5,53.99 L351.5,53.88 L352.5,53.77 L353.5,53.64 L354.5,53.5 L355.5,53.35 L356.5,53.18 L357.5,53 L358.5,52.81 L359.5,52.6 L360.5,52.37 L361.5,52.12 L362.5,51.86 L363.5,51.57 L364.5,51.26 L365.5,50.94 L366.5,50.59 L367.5,50.21 L368.5,49.82 L369.5,49.39 L370.5,48.95 L371.5,48.48 L372.5,47.98 L373.5,47.45 L374.5,46.9 L375.5,46.33 L376.5,45.72 L377.5,45.09 L378.5,44.44 L379.5,43.76 L380.5,43.05 L381.5,42.33 L382.5,41.58 L383.5,40.8 L384.5,40.01 L385.5,39.2 L386.5,38.38 L387.5,37.54 L388.5,36.68 L389.5,35.82 L390.5,34.95 L391.5,34.07 L392.5,33.19 L393.5,32.31 L394.5,31.44 L395.5,30.57 L396.5,29.71 L397.5,28.87 L398.5,28.04 L399.5,27.23 L400.5,26.45 L401.5,25.69 L402.5,24.96 L403.5,24.26 L404.5,23.6 L405.5,22.98 L406.5,22.4 L407.5,21.87 L408.5,21.38 L409.5,20.94 L410.5,20.55 L411.5,20.22 L412.5,19.94 L413.5,19.72 L414.5,19.56 L415.5,19.45 L416.5,19.4 L417.5,19.41 L418.5,19.49 L419.5,19.61 L420.5,19.8 L421.5,20.05 L422.5,20.35 L423.5,20.7 L424.5,21.11 L425.5,21.57 L426.5,22.08 L427.5,22.63 L428.5,23.23 L429.5,23.86 L430.5,24.54 L431.5,25.25 L432.5,25.99 L433.5,26.76 L434.5,27.55 L435.5,28.37 L436.5,29.21 L437.5,30.06 L438.5,30.92 L439.5,31.79 L440.5,32.67 L441.5,33.54 L442.5,34.42 L443.5,35.3 L444.5,36.17 L445.5,37.02 L446.5,37.87 L447.5,38.71 L448.5,39.53 L449.5,40.33 L450.5,41.12 L451.5,41.88 L452.5,42.62 L453.5,43.34 L454.5,44.03 L455.5,44.7 L456.5,45.35 L457.5,45.97 L458.5,46.56" fill="none" stroke="#1c3cdc" stroke-width="1.6"/>
<path d="M207.5,143.05 L208.5,142.65 L209.5,142.2 L210.5,141.71 L211.5,141.18 L212.5,140.6 L213.5,139.97 L214.5,139.3 L215.5,138.58 L216.5,137.82 L217.5,137.02 L218.5,136.18 L219.5,135.3 L220.5,134.38 L221.5,133.45 L222.5,132.49 L223.5,131.52 L224.5,130.54 L225.5,129.57 L226.5,128.6 L227.5,127.65 L228.5,126.73 L229.5,125.85 L230.5,125.02 L231.5,124.24 L232.5,123.52 L233.5,122.88 L234.5,122.32 L235.5,121.84 L236.5,121.46 L237.5,121.17 L238.5,120.99 L239.5,120.9 L240.5,120.93 L241.5,121.05 L242.5,121.28 L243.5,121.6 L244.5,122.02 L245.5,122.53 L246.5,123.13 L247.5,123.8 L248.5,124.54 L249.5,125.35 L250.5,126.2 L251.5,127.1 L252.5,128.03 L253.5,128.98 L254.5,129.95 L255.5,130.93 L256.5,131.91 L257.5,132.88 L258.5,133.83 L259.5,134.75 L260.5,135.65 L261.5,136.52 L262.5,137.35 L263.5,138.13 L264.5,138.88 L265.5,139.58 L266.5,140.23 L267.5,140.84 L268.5,141.4 L269.5,141.91 L270.5,142.38 L271.5,142.81 L272.5,143.2 L273.5,143.55 L274.5,143.86 L275.5,144.14 L276.5,144.38 L277.5,144.6 L278.5,144.79 L279.5,144.96 L280.5,145.1 L281.5,145.23 L282.5,145.34 L283.5,145.43 L284.5,145.51 L285.5,145.58 L286.5,145.63 L287.5,145.68 L288.5,145.72 L289.5,145.75 L290.5,145.78 L291.5,145.8 L292.5,145.82 L293.5,145.84 L294.5,145.85 L295.5,145.86 L296.5,145.87 L297.5,145.88 L298.5,145.88 L299.5,145.88 L300.5,145.89 L301.5,145.89 L302.5,145.89 L303.5,145.89 L304.5,145.9 L305.5,145.9 L306.5,145.9 L307.5,145.9 L308.5,145.9 L309.5,145.9 L310.5,145.9 L311.5,145.9 L312.5,145.9 L313.5,145.9 L314.5,145.9 L315.5,145.9 L316.5,145.9 L317.5,145.9 L318.5,145.9 L319.5,145.9 L320.5,145.9 L321.5,145.9 L322.5,145.9 L323.5,145.9 L324.5,145.9 L325.5,145.9 L326.5,145.9 L327.5,145.9 L328.5,145.9 L329.5,145.9 L330.5,145.9 L331.5,145.9 L332.5,145.9 L333.5,145.9 L334.5,145.9 L335.5,145.9 L336.5,145.9 L337.5,145.9 L338.5,145.9 L339.5,145.9 L340.5,145.9 L341.5,145.9 L342.5,145.9 L343.5,145.9 L344.5,145.9 L345.5,145.9 L346.5,145.9 L347.5,145.9 L348.5,145.9 L349.5,145.9 L350.5,145.9 L351.5,145.9 L352.5,145.9 L353.5,145.9 L354.5,145.9 L355.5,145.9 L356.5,145.9 L357.5,145.9 L358.5,145.9 L359.5,145.9 L360.5,145.9 L361.5,145.9 L362.5,145.9 L363.5,145.9 L364.5,145.9 L365.5,145.9 L366.5,145.9 L367.5,145.9 L368.5,145.9 L369.5,145.9 L370.5,145.9 L371.5,145.9 L372.5,145.9 L373.5,145.9 L374.5,145.9 L375.5,145.9 L376.5,145.9 L377.5,145.9 L378.5,145.9 L379.5,145.9 L380.5,145.9 L381.5,145.9 L382.5,145.9 L383.5,145.9 L384.5,145.9 L385.5,145.9 L386.5,145.9 L387.5,145.9 L388.5,145.9 L389.5,145.9 L390.5,145.9 L391.5,145.9 L392.5,145.9 L393.5,145.9 L394.5,145.9 L395.5,145.9 L396.5,145.9 L397.5,145.9 L398.5,145.9 L399.5,145.9 L400.5,145.9 L401.5,145.9 L402.5,145.9 L403.5,145.9 L404.5,145.9 L405.5,145.9 L406.5,145.9 L407.5,145.9 L408.5,145.9 L409.5,145.9 L410.5,145.9 L411.5,145.9 L412.5,145.9 L413.5,145.9 L414.5,145.9 L415.5,145.9 L416.5,145.9 L417.5,145.9 L418.5,145.9 L419.5,145.9 L420.5,145.9 L421.5,145.9 L422.5,145.9 L423.5,145.9 L424.5,145.9 L425.5,145.9 L426.5,145.9 L427.5,145.9 L428.5,145.9 L429.5,145.9 L430.5,145.9 L431.5,145.9 L432.5,145.9 L433.5,145.9 L434.5,145.9 L435.5,145.9 L436.5,145.9 L437.5,145.9 L438.5,145.9 L439.5,145.9 L440.5,145.9 L441.5,145.9 L442.5,145.9 L443.5,145.9 L444.5,145.9 L445.5,145.9 L446.5,145.9 L447.5,145.9 L448.5,145.9 L449.5,145.9 L450.5,145.9 L451.5,145.9 L452.5,145.9 L453.5,145.9 L454.5,145.9 L455.5,145.9 L456.5,145.9 L457.5,145.9 L458.5,145.9" fill="none" stroke="#ff1010" stroke-width="1.6"/>
<path d="M207.5,143.97 L208.5,143.82 L209.5,143.67 L210.5,143.51 L211.5,143.34 L212.5,143.16 L213.5,142.97 L214.5,142.77 L215.5,142.57 L216.5,142.35 L217.5,142.13 L218.5,141.9 L219.5,141.66 L220.5,141.41 L221.5,141.15 L222.5,140.88 L223.5,140.61 L224.5,140.33 L225.5,140.04 L226.5,139.74 L227.5,139.44 L228.5,139.12 L229.5,138.81 L230.5,138.49 L231.5,138.16 L232.5,137.83 L233.5,137.49 L234.5,137.16 L235.5,136.82 L236.5,136.48 L237.5,136.14 L238.5,135.8 L239.5,135.46 L240.5,135.13 L241.5,134.79 L242.5,134.47 L243.5,134.14 L244.5,133.83 L245.5,133.52 L246.5,133.22 L247.5,132.93 L248.5,132.65 L249.5,132.38 L250.5,132.12 L251.5,131.87 L252.5,131.64 L253.5,131.43 L254.5,131.23 L255.5,131.04 L256.5,130.87 L257.5,130.72 L258.5,130.59 L259.5,130.48 L260.5,130.38 L261.5,130.31 L262.5,130.25 L263.5,130.22 L264.5,130.2 L265.5,130.21 L266.5,130.28 L267.5,130.4 L268.5,130.57 L269.5,130.79 L270.5,131.06 L271.5,131.37 L272.5,131.73 L273.5,132.13 L274.5,132.56 L275.5,133.02 L276.5,133.51 L277.5,134.02 L278.5,134.55 L279.5,135.1 L280.5,135.65 L281.5,136.21 L282.5,136.77 L283.5,137.33 L284.5,137.88 L285.5,138.42 L286.5,138.95 L287.5,139.46 L288.5,139.96 L289.5,140.44 L290.5,140.89 L291.5,141.33 L292.5,141.74 L293.5,142.12 L294.5,142.49 L295.5,142.83 L296.5,143.14 L297.5,143.43 L298.5,143.7 L299.5,143.94 L300.5,144.17 L301.5,144.37 L302.5,144.56 L303.5,144.72 L304.5,144.87 L305.5,145.01 L306.5,145.12 L307.5,145.23 L308.5,145.32 L309.5,145.41 L310.5,145.48 L311.5,145.54 L312.5,145.59 L313.5,145.64 L314.5,145.68 L315.5,145.72 L316.5,145.75 L317.5,145.77 L318.5,145.79 L319.5,145.81 L320.5,145.83 L321.5,145.84 L322.5,145.85 L323.5,145.86 L324.5,145.87 L325.5,145.87 L326.5,145.88 L327.5,145.88 L328.5,145.89 L329.5,145.89 L330.5,145.89 L331.5,145.89 L332.5,145.89 L333.5,145.9 L334.5,145.9 L335.5,145.9 L336.5,145.9 L337.5,145.9 L338.5,145.9 L339.5,145.9 L340.5,145.9 L341.5,145.9 L342.5,145.9 L343.5,145.9 L344.5,145.9 L345.5,145.9 L346.5,145.9 L347.5,145.9 L348.5,145.9 L349.5,145.9 L350.5,145.9 L351.5,145.9 L352.5,145.9 L353.5,145.9 L354.5,145.9 L355.5,145.9 L356.5,145.9 L357.5,145.9 L358.5,145.9 L359.5,145.9 L360.5,145.9 L361.5,145.9 L362.5,145.9 L363.5,145.9 L364.5,145.9 L365.5,145.9 L366.5,145.9 L367.5,145.9 L368.5,145.9 L369.5,145.9 L370.5,145.9 L371.5,145.9 L372.5,145.9 L373.5,145.9 L374.5,145.9 L375.5,145.9 L376.5,145.9 L377.5,145.9 L378.5,145.9 L379.5,145.9 L380.5,145.9 L381.5,145.9 L382.5,145.9 L383.5,145.9 L384.5,145.9 L385.5,145.9 L386.5,145.9 L387.5,145.9 L388.5,145.9 L389.5,145.9 L390.5,145.9 L391.5,145.9 L392.5,145.9 L393.5,145.9 L394.5,145.9 L395.5,145.9 L396.5,145.9 L397.5,145.9 L398.5,145.9 L399.5,145.9 L400.5,145.9 L401.5,145.9 L402.5,145.9 L403.5,145.9 L404.5,145.9 L405.5,145.9 L406.5,145.9 L407.5,145.9 L408.5,145.9 L409.5,145.9 L410.5,145.9 L411.5,145.9 L412.5,145.9 L413.5,145.9 L414.5,145.9 L415.5,145.9 L416.5,145.9 L417.5,145.9 L418.5,145.9 L419.5,145.9 L420.5,145.9 L421.5,145.9 L422.5,145.9 L423.5,145.9 L424.5,145.9 L425.5,145.9 L426.5,145.9 L427.5,145.9 L428.5,145.9 L429.5,145.9 L430.5,145.9 L431.5,145.9 L432.5,145.9 L433.5,145.9 L434.5,145.9 L435.5,145.9 L436.5,145.9 L437.5,145.9 L438.5,145.9 L439.5,145.9 L440.5,145.9 L441.5,145.9 L442.5,145.9 L443.5,145.9 L444.5,145.9 L445.5,145.9 L446.5,145.9 L447.5,145.9 L448.5,145.9 L449.5,145.9 L450.5,145.9 L451.5,145.9 L452.5,145.9 L453.5,145.9 L454.5,145.9 L455.5,145.9 L456.5,145.9 L457.5,145.9 L458.5,145.9" fill="none" stroke="#1c3cdc" stroke-width="1.6"/>
<path d="M207.5,187.6 L208.5,186.96 L209.5,186.25 L210.5,185.46 L211.5,184.59 L212.5,183.64 L213.5,182.62 L214.5,181.52 L215.5,180.34 L216.5,179.1 L217.5,177.79 L218.5,176.43 L219.5,175.03 L220.5,173.6 L221.5,172.15 L222.5,170.7 L223.5,169.27 L224.5,167.87 L225.5,166.52 L226.5,165.23 L227.5,164.03 L228.5,162.94 L229.5,161.96 L230.5,161.12 L231.5,160.43 L232.5,159.89 L233.5,159.53 L234.5,159.33 L235.5,159.31 L236.5,159.47 L237.5,159.81 L238.5,160.31 L239.5,160.97 L240.5,161.78 L241.5,162.73 L242.5,163.81 L243.5,164.98 L244.5,166.25 L245.5,167.59 L246.5,168.99 L247.5,170.42 L248.5,171.86 L249.5,173.31 L250.5,174.75 L251.5,176.16 L252.5,177.52 L253.5,178.84 L254.5,180.1 L255.5,181.29 L256.5,182.4 L257.5,183.45 L258.5,184.41 L259.5,185.29 L260.5,186.1 L261.5,186.83 L262.5,187.48 L263.5,188.07 L264.5,188.58 L265.5,189.04 L266.5,189.44 L267.5,189.79 L268.5,190.09 L269.5,190.34 L270.5,190.56 L271.5,190.75 L272.5,190.9 L273.5,191.03 L274.5,191.14 L275.5,191.23 L276.5,191.31 L277.5,191.37 L278.5,191.42 L279.5,191.46 L280.5,191.49 L281.5,191.51 L282.5,191.53 L283.5,191.55 L284.5,191.56 L285.5,191.57 L286.5,191.58 L287.5,191.58 L288.5,191.59 L289.5,191.59 L290.5,191.59 L291.5,191.59 L292.5,191.6 L293.5,191.6 L294.5,191.6 L295.5,191.6 L296.5,191.6 L297.5,191.6 L298.5,191.6 L299.5,191.6 L300.5,191.6 L301.5,191.6 L302.5,191.6 L303.5,191.6 L304.5,191.6 L305.5,191.6 L306.5,191.6 L307.5,191.6 L308.5,191.6 L309.5,191.6 L310.5,191.6 L311.5,191.6 L312.5,191.6 L313.5,191.6 L314.5,191.6 L315.5,191.6 L316.5,191.6 L317.5,191.6 L318.5,191.6 L319.5,191.6 L320.5,191.6 L321.5,191.6 L322.5,191.6 L323.5,191.6 L324.5,191.6 L325.5,191.6 L326.5,191.6 L327.5,191.6 L328.5,191.6 L329.5,191.6 L330.5,191.6 L331.5,191.6 L332.5,191.6 L333.5,191.6 L334.5,191.6 L335.5,191.6 L336.5,191.6 L337.5,191.6 L338.5,191.6 L339.5,191.6 L340.5,191.6 L341.5,191.6 L342.5,191.6 L343.5,191.6 L344.5,191.6 L345.5,191.6 L346.5,191.6 L347.5,191.6 L348.5,191.6 L349.5,191.6 L350.5,191.6 L351.5,191.6 L352.5,191.6 L353.5,191.6 L354.5,191.6 L355.5,191.6 L356.5,191.6 L357.5,191.6 L358.5,191.6 L359.5,191.6 L360.5,191.6 L361.5,191.6 L362.5,191.6 L363.5,191.6 L364.5,191.6 L365.5,191.6 L366.5,191.6 L367.5,191.6 L368.5,191.6 L369.5,191.6 L370.5,191.6 L371.5,191.6 L372.5,191.6 L373.5,191.6 L374.5,191.6 L375.5,191.6 L376.5,191.6 L377.5,191.6 L378.5,191.6 L379.5,191.6 L380.5,191.6 L381.5,191.6 L382.5,191.6 L383.5,191.6 L384.5,191.6 L385.5,191.6 L386.5,191.6 L387.5,191.6 L388.5,191.6 L389.5,191.6 L390.5,191.6 L391.5,191.6 L392.5,191.6 L393.5,191.6 L394.5,191.6 L395.5,191.6 L396.5,191.6 L397.5,191.6 L398.5,191.6 L399.5,191.6 L400.5,191.6 L401.5,191.6 L402.5,191.6 L403.5,191.6 L404.5,191.6 L405.5,191.6 L406.5,191.6 L407.5,191.6 L408.5,191.6 L409.5,191.6 L410.5,191.6 L411.5,191.6 L412.5,191.6 L413.5,191.6 L414.5,191.6 L415.5,191.6 L416.5,191.6 L417.5,191.6 L418.5,191.6 L419.5,191.6 L420.5,191.6 L421.5,191.6 L422.5,191.6 L423.5,191.6 L424.5,191.6 L425.5,191.6 L426.5,191.6 L427.5,191.6 L428.5,191.6 L429.5,191.6 L430.5,191.6 L431.5,191.6 L432.5,191.6 L433.5,191.6 L434.5,191.6 L435.5,191.6 L436.5,191.6 L437.5,191.6 L438.5,191.6 L439.5,191.6 L440.5,191.6 L441.5,191.6 L442.5,191.6 L443.5,191.6 L444.5,191.6 L445.5,191.6 L446.5,191.6 L447.5,191.6 L448.5,191.6 L449.5,191.6 L450.5,191.6 L451.5,191.6 L452.5,191.6 L453.5,191.6 L454.5,191.6 L455.5,191.6 L456.5,191.6 L457.5,191.6 L458.5,191.6" fill="none" stroke="#ff1010" stroke-width="1.6"/>
<path d="M207.5,191.06 L208.5,190.99 L209.5,190.92 L210.5,190.84 L211.5,190.75 L212.5,190.65 L213.5,190.54 L214.5,190.43 L215.5,190.3 L216.5,190.17 L217.5,190.02 L218.5,189.86 L219.5,189.7 L220.5,189.52 L221.5,189.33 L222.5,189.12 L223.5,188.91 L224.5,188.68 L225.5,188.44 L226.5,188.19 L227.5,187.92 L228.5,187.65 L229.5,187.36 L230.5,187.07 L231.5,186.76 L232.5,186.45 L233.5,186.12 L234.5,185.79 L235.5,185.46 L236.5,185.12 L237.5,184.77 L238.5,184.43 L239.5,184.08 L240.5,183.73 L241.5,183.39 L242.5,183.05 L243.5,182.72 L244.5,182.4 L245.5,182.08 L246.5,181.78 L247.5,181.49 L248.5,181.22 L249.5,180.96 L250.5,180.72 L251.5,180.5 L252.5,180.3 L253.5,180.13 L254.5,179.98 L255.5,179.85 L256.5,179.75 L257.5,179.67 L258.5,179.62 L259.5,179.6 L260.5,179.61 L261.5,179.64 L262.5,179.7 L263.5,179.78 L264.5,179.9 L265.5,180.03 L266.5,180.2 L267.5,180.38 L268.5,180.59 L269.5,180.81 L270.5,181.06 L271.5,181.33 L272.5,181.61 L273.5,181.9 L274.5,182.21 L275.5,182.53 L276.5,182.85 L277.5,183.19 L278.5,183.53 L279.5,183.87 L280.5,184.22 L281.5,184.56 L282.5,184.91 L283.5,185.25 L284.5,185.59 L285.5,185.93 L286.5,186.25 L287.5,186.57 L288.5,186.88 L289.5,187.19 L290.5,187.48 L291.5,187.76 L292.5,188.03 L293.5,188.29 L294.5,188.54 L295.5,188.77 L296.5,188.99 L297.5,189.2 L298.5,189.4 L299.5,189.59 L300.5,189.77 L301.5,189.93 L302.5,190.08 L303.5,190.22 L304.5,190.35 L305.5,190.48 L306.5,190.59 L307.5,190.69 L308.5,190.78 L309.5,190.87 L310.5,190.95 L311.5,191.02 L312.5,191.09 L313.5,191.14 L314.5,191.2 L315.5,191.24 L316.5,191.29 L317.5,191.32 L318.5,191.36 L319.5,191.39 L320.5,191.42 L321.5,191.44 L322.5,191.46 L323.5,191.48 L324.5,191.5 L325.5,191.51 L326.5,191.52 L327.5,191.53 L328.5,191.54 L329.5,191.55 L330.5,191.56 L331.5,191.56 L332.5,191.57 L333.5,191.57 L334.5,191.58 L335.5,191.58 L336.5,191.58 L337.5,191.59 L338.5,191.59 L339.5,191.59 L340.5,191.59 L341.5,191.59 L342.5,191.59 L343.5,191.6 L344.5,191.6 L345.5,191.6 L346.5,191.6 L347.5,191.6 L348.5,191.6 L349.5,191.6 L350.5,191.6 L351.5,191.6 L352.5,191.6 L353.5,191.6 L354.5,191.6 L355.5,191.6 L356.5,191.6 L357.5,191.6 L358.5,191.6 L359.5,191.6 L360.5,191.6 L361.5,191.6 L362.5,191.6 L363.5,191.6 L364.5,191.6 L365.5,191.6 L366.5,191.6 L367.5,191.6 L368.5,191.6 L369.5,191.6 L370.5,191.6 L371.5,191.6 L372.5,191.6 L373.5,191.6 L374.5,191.6 L375.5,191.6 L376.5,191.6 L377.5,191.6 L378.5,191.6 L379.5,191.6 L380.5,191.6 L381.5,191.6 L382.5,191.6 L383.5,191.6 L384.5,191.6 L385.5,191.6 L386.5,191.6 L387.5,191.6 L388.5,191.6 L389.5,191.6 L390.5,191.6 L391.5,191.6 L392.5,191.6 L393.5,191.6 L394.5,191.6 L395.5,191.6 L396.5,191.6 L397.5,191.6 L398.5,191.6 L399.5,191.6 L400.5,191.6 L401.5,191.6 L402.5,191.6 L403.5,191.6 L404.5,191.6 L405.5,191.6 L406.5,191.6 L407.5,191.6 L408.5,191.6 L409.5,191.6 L410.5,191.6 L411.5,191.6 L412.5,191.6 L413.5,191.6 L414.5,191.6 L415.5,191.6 L416.5,191.6 L417.5,191.6 L418.5,191.6 L419.5,191.6 L420.5,191.6 L421.5,191.6 L422.5,191.6 L423.5,191.6 L424.5,191.6 L425.5,191.6 L426.5,191.6 L427.5,191.6 L428.5,191.6 L429.5,191.6 L430.5,191.6 L431.5,191.6 L432.5,191.6 L433.5,191.6 L434.5,191.6 L435.5,191.6 L436.5,191.6 L437.5,191.6 L438.5,191.6 L439.5,191.6 L440.5,191.6 L441.5,191.6 L442.5,191.6 L443.5,191.6 L444.5,191.6 L445.5,191.6 L446.5,191.6 L447.5,191.6 L448.5,191.6 L449.5,191.6 L450.5,191.6 L451.5,191.6 L452.5,191.6 L453.5,191.6 L454.5,191.6 L455.5,191.6 L456.5,191.6 L457.5,191.6 L458.5,191.6" fill="none" stroke="#1c3cdc" stroke-width="1.6"/>
<path d="M207.5,236.59 L208.5,236.35 L209.5,236.04 L210.5,235.65 L211.5,235.17 L212.5,234.59 L213.5,233.88 L214.5,233.04 L215.5,232.06 L216.5,230.92 L217.5,229.63 L218.5,228.18 L219.5,226.6 L220.5,224.88 L221.5,223.05 L222.5,221.15 L223.5,219.21 L224.5,217.28 L225.5,215.4 L226.5,213.62 L227.5,212 L228.5,210.59 L229.5,209.43 L230.5,208.56 L231.5,208.01 L232.5,207.8 L233.5,207.94 L234.5,208.42 L235.5,209.23 L236.5,210.34 L237.5,211.7 L238.5,213.28 L239.5,215.03 L240.5,216.9 L241.5,218.82 L242.5,220.77 L243.5,222.68 L244.5,224.52 L245.5,226.26 L246.5,227.88 L247.5,229.35 L248.5,230.67 L249.5,231.84 L250.5,232.86 L251.5,233.72 L252.5,234.46 L253.5,235.07 L254.5,235.56 L255.5,235.97 L256.5,236.29 L257.5,236.54 L258.5,236.74 L259.5,236.89 L260.5,237 L261.5,237.09 L262.5,237.15 L263.5,237.2 L264.5,237.23 L265.5,237.25 L266.5,237.27 L267.5,237.28 L268.5,237.29 L269.5,237.29 L270.5,237.29 L271.5,237.3 L272.5,237.3 L273.5,237.3 L274.5,237.3 L275.5,237.3 L276.5,237.3 L277.5,237.3 L278.5,237.3 L279.5,237.3 L280.5,237.3 L281.5,237.3 L282.5,237.3 L283.5,237.3 L284.5,237.3 L285.5,237.3 L286.5,237.3 L287.5,237.3 L288.5,237.3 L289.5,237.3 L290.5,237.3 L291.5,237.3 L292.5,237.3 L293.5,237.3 L294.5,237.3 L295.5,237.3 L296.5,237.3 L297.5,237.3 L298.5,237.3 L299.5,237.3 L300.5,237.3 L301.5,237.3 L302.5,237.3 L303.5,237.3 L304.5,237.3 L305.5,237.3 L306.5,237.3 L307.5,237.3 L308.5,237.3 L309.5,237.3 L310.5,237.3 L311.5,237.3 L312.5,237.3 L313.5,237.3 L314.5,237.3 L315.5,237.3 L316.5,237.3 L317.5,237.3 L318.5,237.3 L319.5,237.3 L320.5,237.3 L321.5,237.3 L322.5,237.3 L323.5,237.3 L324.5,237.3 L325.5,237.3 L326.5,237.3 L327.5,237.3 L328.5,237.3 L329.5,237.3 L330.5,237.3 L331.5,237.3 L332.5,237.3 L333.5,237.3 L334.5,237.3 L335.5,237.3 L336.5,237.3 L337.5,237.3 L338.5,237.3 L339.5,237.3 L340.5,237.3 L341.5,237.3 L342.5,237.3 L343.5,237.3 L344.5,237.3 L345.5,237.3 L346.5,237.3 L347.5,237.3 L348.5,237.3 L349.5,237.3 L350.5,237.3 L351.5,237.3 L352.5,237.3 L353.5,237.3 L354.5,237.3 L355.5,237.3 L356.5,237.3 L357.5,237.3 L358.5,237.3 L359.5,237.3 L360.5,237.3 L361.5,237.3 L362.5,237.3 L363.5,237.3 L364.5,237.3 L365.5,237.3 L366.5,237.3 L367.5,237.3 L368.5,237.3 L369.5,237.3 L370.5,237.3 L371.5,237.3 L372.5,237.3 L373.5,237.3 L374.5,237.3 L375.5,237.3 L376.5,237.3 L377.5,237.3 L378.5,237.3 L379.5,237.3 L380.5,237.3 L381.5,237.3 L382.5,237.3 L383.5,237.3 L384.5,237.3 L385.5,237.3 L386.5,237.3 L387.5,237.3 L388.5,237.3 L389.5,237.3 L390.5,237.3 L391.5,237.3 L392.5,237.3 L393.5,237.3 L394.5,237.3 L395.5,237.3 L396.5,237.3 L397.5,237.3 L398.5,237.3 L399.5,237.3 L400.5,237.3 L401.5,237.3 L402.5,237.3 L403.5,237.3 L404.5,237.3 L405.5,237.3 L406.5,237.3 L407.5,237.3 L408.5,237.3 L409.5,237.3 L410.5,237.3 L411.5,237.3 L412.5,237.3 L413.5,237.3 L414.5,237.3 L415.5,237.3 L416.5,237.3 L417.5,237.3 L418.5,237.3 L419.5,237.3 L420.5,237.3 L421.5,237.3 L422.5,237.3 L423.5,237.3 L424.5,237.3 L425.5,237.3 L426.5,237.3 L427.5,237.3 L428.5,237.3 L429.5,237.3 L430.5,237.3 L431.5,237.3 L432.5,237.3 L433.5,237.3 L434.5,237.3 L435.5,237.3 L436.5,237.3 L437.5,237.3 L438.5,237.3 L439.5,237.3 L440.5,237.3 L441.5,237.3 L442.5,237.3 L443.5,237.3 L444.5,237.3 L445.5,237.3 L446.5,237.3 L447.5,237.3 L448.5,237.3 L449.5,237.3 L450.5,237.3 L451.5,237.3 L452.5,237.3 L453.5,237.3 L454.5,237.3 L455.5,237.3 L456.5,237.3 L457.5,237.3 L458.5,237.3" fill="none" stroke="#ff1010" stroke-width="1.6"/>
<path d="M207.5,235.77 L208.5,235.66 L209.5,235.54 L210.5,235.42 L211.5,235.29 L212.5,235.15 L213.5,235.01 L214.5,234.86 L215.5,234.7 L216.5,234.54 L217.5,234.36 L218.5,234.18 L219.5,233.99 L220.5,233.79 L221.5,233.58 L222.5,233.36 L223.5,233.13 L224.5,232.89 L225.5,232.65 L226.5,232.39 L227.5,232.12 L228.5,231.84 L229.5,231.55 L230.5,231.26 L231.5,230.95 L232.5,230.63 L233.5,230.3 L234.5,229.96 L235.5,229.61 L236.5,229.25 L237.5,228.88 L238.5,228.5 L239.5,228.11 L240.5,227.71 L241.5,227.31 L242.5,226.89 L243.5,226.47 L244.5,226.03 L245.5,225.59 L246.5,225.14 L247.5,224.69 L248.5,224.23 L249.5,223.76 L250.5,223.29 L251.5,222.81 L252.5,222.33 L253.5,221.85 L254.5,221.36 L255.5,220.87 L256.5,220.38 L257.5,219.89 L258.5,219.4 L259.5,218.91 L260.5,218.42 L261.5,217.94 L262.5,217.46 L263.5,216.99 L264.5,216.52 L265.5,216.05 L266.5,215.6 L267.5,215.15 L268.5,214.71 L269.5,214.28 L270.5,213.87 L271.5,213.46 L272.5,213.07 L273.5,212.69 L274.5,212.33 L275.5,211.98 L276.5,211.64 L277.5,211.33 L278.5,211.03 L279.5,210.75 L280.5,210.49 L281.5,210.25 L282.5,210.02 L283.5,209.82 L284.5,209.64 L285.5,209.48 L286.5,209.35 L287.5,209.23 L288.5,209.14 L289.5,209.07 L290.5,209.03 L291.5,209 L292.5,209 L293.5,209.03 L294.5,209.08 L295.5,209.16 L296.5,209.26 L297.5,209.39 L298.5,209.54 L299.5,209.72 L300.5,209.92 L301.5,210.15 L302.5,210.4 L303.5,210.67 L304.5,210.96 L305.5,211.27 L306.5,211.6 L307.5,211.96 L308.5,212.33 L309.5,212.71 L310.5,213.12 L311.5,213.53 L312.5,213.97 L313.5,214.41 L314.5,214.87 L315.5,215.34 L316.5,215.82 L317.5,216.3 L318.5,216.8 L319.5,217.3 L320.5,217.81 L321.5,218.32 L322.5,218.84 L323.5,219.36 L324.5,219.88 L325.5,220.4 L326.5,220.91 L327.5,221.43 L328.5,221.95 L329.5,222.46 L330.5,222.97 L331.5,223.47 L332.5,223.97 L333.5,224.47 L334.5,224.95 L335.5,225.43 L336.5,225.9 L337.5,226.36 L338.5,226.81 L339.5,227.26 L340.5,227.69 L341.5,228.11 L342.5,228.52 L343.5,228.93 L344.5,229.32 L345.5,229.7 L346.5,230.06 L347.5,230.42 L348.5,230.76 L349.5,231.1 L350.5,231.42 L351.5,231.73 L352.5,232.03 L353.5,232.32 L354.5,232.59 L355.5,232.86 L356.5,233.11 L357.5,233.35 L358.5,233.58 L359.5,233.81 L360.5,234.02 L361.5,234.22 L362.5,234.41 L363.5,234.59 L364.5,234.77 L365.5,234.93 L366.5,235.09 L367.5,235.23 L368.5,235.37 L369.5,235.5 L370.5,235.63 L371.5,235.75 L372.5,235.86 L373.5,235.96 L374.5,236.06 L375.5,236.15 L376.5,236.23 L377.5,236.31 L378.5,236.39 L379.5,236.46 L380.5,236.52 L381.5,236.58 L382.5,236.64 L383.5,236.69 L384.5,236.74 L385.5,236.79 L386.5,236.83 L387.5,236.87 L388.5,236.91 L389.5,236.94 L390.5,236.97 L391.5,237 L392.5,237.03 L393.5,237.05 L394.5,237.07 L395.5,237.09 L396.5,237.11 L397.5,237.13 L398.5,237.15 L399.5,237.16 L400.5,237.17 L401.5,237.18 L402.5,237.2 L403.5,237.21 L404.5,237.22 L405.5,237.22 L406.5,237.23 L407.5,237.24 L408.5,237.24 L409.5,237.25 L410.5,237.26 L411.5,237.26 L412.5,237.26 L413.5,237.27 L414.5,237.27 L415.5,237.27 L416.5,237.28 L417.5,237.28 L418.5,237.28 L419.5,237.28 L420.5,237.29 L421.5,237.29 L422.5,237.29 L423.5,237.29 L424.5,237.29 L425.5,237.29 L426.5,237.29 L427.5,237.29 L428.5,237.29 L429.5,237.3 L430.5,237.3 L431.5,237.3 L432.5,237.3 L433.5,237.3 L434.5,237.3 L435.5,237.3 L436.5,237.3 L437.5,237.3 L438.5,237.3 L439.5,237.3 L440.5,237.3 L441.5,237.3 L442.5,237.3 L443.5,237.3 L444.5,237.3 L445.5,237.3 L446.5,237.3 L447.5,237.3 L448.5,237.3 L449.5,237.3 L450.5,237.3 L451.5,237.3 L452.5,237.3 L453.5,237.3 L454.5,237.3 L455.5,237.3 L456.5,237.3 L457.5,237.3 L458.5,237.3" fill="none" stroke="#1c3cdc" stroke-width="1.6"/>
<path d="M207.5,283 L208.5,282.96 L209.5,282.92 L210.5,282.86 L211.5,282.78 L212.5,282.69 L213.5,282.56 L214.5,282.41 L215.5,282.23 L216.5,282 L217.5,281.73 L218.5,281.4 L219.5,281.01 L220.5,280.55 L221.5,280.01 L222.5,279.4 L223.5,278.7 L224.5,277.91 L225.5,277.02 L226.5,276.05 L227.5,274.98 L228.5,273.84 L229.5,272.61 L230.5,271.33 L231.5,269.99 L232.5,268.63 L233.5,267.25 L234.5,265.88 L235.5,264.55 L236.5,263.29 L237.5,262.1 L238.5,261.04 L239.5,260.11 L240.5,259.33 L241.5,258.74 L242.5,258.33 L243.5,258.13 L244.5,258.13 L245.5,258.33 L246.5,258.74 L247.5,259.33 L248.5,260.11 L249.5,261.04 L250.5,262.1 L251.5,263.29 L252.5,264.55 L253.5,265.88 L254.5,267.25 L255.5,268.63 L256.5,269.99 L257.5,271.33 L258.5,272.61 L259.5,273.84 L260.5,274.98 L261.5,276.05 L262.5,277.02 L263.5,277.91 L264.5,278.7 L265.5,279.4 L266.5,280.01 L267.5,280.55 L268.5,281.01 L269.5,281.4 L270.5,281.73 L271.5,282 L272.5,282.23 L273.5,282.41 L274.5,282.56 L275.5,282.69 L276.5,282.78 L277.5,282.86 L278.5,282.92 L279.5,282.96 L280.5,283 L281.5,283.03 L282.5,283.05 L283.5,283.06 L284.5,283.07 L285.5,283.08 L286.5,283.09 L287.5,283.09 L288.5,283.09 L289.5,283.1 L290.5,283.1 L291.5,283.1 L292.5,283.1 L293.5,283.1 L294.5,283.1 L295.5,283.1 L296.5,283.1 L297.5,283.1 L298.5,283.1 L299.5,283.1 L300.5,283.1 L301.5,283.1 L302.5,283.1 L303.5,283.1 L304.5,283.1 L305.5,283.1 L306.5,283.1 L307.5,283.1 L308.5,283.1 L309.5,283.1 L310.5,283.1 L311.5,283.1 L312.5,283.1 L313.5,283.1 L314.5,283.1 L315.5,283.1 L316.5,283.1 L317.5,283.1 L318.5,283.1 L319.5,283.1 L320.5,283.1 L321.5,283.1 L322.5,283.1 L323.5,283.1 L324.5,283.1 L325.5,283.1 L326.5,283.1 L327.5,283.1 L328.5,283.1 L329.5,283.1 L330.5,283.1 L331.5,283.1 L332.5,283.1 L333.5,283.1 L334.5,283.1 L335.5,283.1 L336.5,283.1 L337.5,283.1 L338.5,283.1 L339.5,283.1 L340.5,283.1 L341.5,283.1 L342.5,283.1 L343.5,283.1 L344.5,283.1 L345.5,283.1 L346.5,283.1 L347.5,283.1 L348.5,283.1 L349.5,283.1 L350.5,283.1 L351.5,283.1 L352.5,283.1 L353.5,283.1 L354.5,283.1 L355.5,283.1 L356.5,283.1 L357.5,283.1 L358.5,283.1 L359.5,283.1 L360.5,283.1 L361.5,283.1 L362.5,283.1 L363.5,283.1 L364.5,283.1 L365.5,283.1 L366.5,283.1 L367.5,283.1 L368.5,283.1 L369.5,283.1 L370.5,283.1 L371.5,283.1 L372.5,283.1 L373.5,283.1 L374.5,283.1 L375.5,283.1 L376.5,283.1 L377.5,283.1 L378.5,283.1 L379.5,283.1 L380.5,283.1 L381.5,283.1 L382.5,283.1 L383.5,283.1 L384.5,283.1 L385.5,283.1 L386.5,283.1 L387.5,283.1 L388.5,283.1 L389.5,283.1 L390.5,283.1 L391.5,283.1 L392.5,283.1 L393.5,283.1 L394.5,283.1 L395.5,283.1 L396.5,283.1 L397.5,283.1 L398.5,283.1 L399.5,283.1 L400.5,283.1 L401.5,283.1 L402.5,283.1 L403.5,283.1 L404.5,283.1 L405.5,283.1 L406.5,283.1 L407.5,283.1 L408.5,283.1 L409.5,283.1 L410.5,283.1 L411.5,283.1 L412.5,283.1 L413.5,283.1 L414.5,283.1 L415.5,283.1 L416.5,283.1 L417.5,283.1 L418.5,283.1 L419.5,283.1 L420.5,283.1 L421.5,283.1 L422.5,283.1 L423.5,283.1 L424.5,283.1 L425.5,283.1 L426.5,283.1 L427.5,283.1 L428.5,283.1 L429.5,283.1 L430.5,283.1 L431.5,283.1 L432.5,283.1 L433.5,283.1 L434.5,283.1 L435.5,283.1 L436.5,283.1 L437.5,283.1 L438.5,283.1 L439.5,283.1 L440.5,283.1 L441.5,283.1 L442.5,283.1 L443.5,283.1 L444.5,283.1 L445.5,283.1 L446.5,283.1 L447.5,283.1 L448.5,283.1 L449.5,283.1 L450.5,283.1 L451.5,283.1 L452.5,283.1 L453.5,283.1 L454.5,283.1 L455.5,283.1 L456.5,283.1 L457.5,283.1 L458.5,283.1" fill="none" stroke="#ff1010" stroke-width="1.6"/>
<path d="M207.5,280.7 L208.5,280.55 L209.5,280.39 L210.5,280.22 L211.5,280.04 L212.5,279.86 L213.5,279.67 L214.5,279.46 L215.5,279.25 L216.5,279.04 L217.5,278.81 L218.5,278.57 L219.5,278.32 L220.5,278.06 L221.5,277.79 L222.5,277.51 L223.5,277.23 L224.5,276.93 L225.5,276.62 L226.5,276.3 L227.5,275.97 L228.5,275.62 L229.5,275.27 L230.5,274.91 L231.5,274.54 L232.5,274.15 L233.5,273.76 L234.5,273.35 L235.5,272.94 L236.5,272.52 L237.5,272.08 L238.5,271.64 L239.5,271.19 L240.5,270.73 L241.5,270.26 L242.5,269.78 L243.5,269.29 L244.5,268.8 L245.5,268.3 L246.5,267.79 L247.5,267.28 L248.5,266.77 L249.5,266.25 L250.5,265.72 L251.5,265.19 L252.5,264.66 L253.5,264.13 L254.5,263.59 L255.5,263.06 L256.5,262.53 L257.5,261.99 L258.5,261.46 L259.5,260.93 L260.5,260.41 L261.5,259.89 L262.5,259.38 L263.5,258.87 L264.5,258.37 L265.5,257.88 L266.5,257.39 L267.5,256.92 L268.5,256.45 L269.5,256 L270.5,255.56 L271.5,255.14 L272.5,254.73 L273.5,254.33 L274.5,253.95 L275.5,253.59 L276.5,253.24 L277.5,252.91 L278.5,252.6 L279.5,252.31 L280.5,252.04 L281.5,251.79 L282.5,251.56 L283.5,251.35 L284.5,251.16 L285.5,251 L286.5,250.86 L287.5,250.74 L288.5,250.65 L289.5,250.57 L290.5,250.53 L291.5,250.5 L292.5,250.5 L293.5,250.52 L294.5,250.55 L295.5,250.6 L296.5,250.67 L297.5,250.75 L298.5,250.85 L299.5,250.97 L300.5,251.1 L301.5,251.25 L302.5,251.42 L303.5,251.59 L304.5,251.79 L305.5,252 L306.5,252.22 L307.5,252.46 L308.5,252.71 L309.5,252.98 L310.5,253.26 L311.5,253.55 L312.5,253.85 L313.5,254.17 L314.5,254.5 L315.5,254.83 L316.5,255.18 L317.5,255.54 L318.5,255.91 L319.5,256.28 L320.5,256.67 L321.5,257.06 L322.5,257.46 L323.5,257.87 L324.5,258.28 L325.5,258.7 L326.5,259.13 L327.5,259.56 L328.5,259.99 L329.5,260.43 L330.5,260.87 L331.5,261.31 L332.5,261.76 L333.5,262.2 L334.5,262.65 L335.5,263.1 L336.5,263.55 L337.5,264 L338.5,264.45 L339.5,264.9 L340.5,265.34 L341.5,265.79 L342.5,266.23 L343.5,266.67 L344.5,267.1 L345.5,267.53 L346.5,267.96 L347.5,268.39 L348.5,268.81 L349.5,269.22 L350.5,269.63 L351.5,270.03 L352.5,270.43 L353.5,270.83 L354.5,271.21 L355.5,271.59 L356.5,271.97 L357.5,272.34 L358.5,272.7 L359.5,273.05 L360.5,273.4 L361.5,273.74 L362.5,274.07 L363.5,274.39 L364.5,274.71 L365.5,275.02 L366.5,275.33 L367.5,275.62 L368.5,275.91 L369.5,276.19 L370.5,276.46 L371.5,276.73 L372.5,276.99 L373.5,277.24 L374.5,277.48 L375.5,277.71 L376.5,277.94 L377.5,278.17 L378.5,278.38 L379.5,278.59 L380.5,278.79 L381.5,278.98 L382.5,279.17 L383.5,279.35 L384.5,279.52 L385.5,279.69 L386.5,279.85 L387.5,280.01 L388.5,280.16 L389.5,280.3 L390.5,280.44 L391.5,280.57 L392.5,280.7 L393.5,280.82 L394.5,280.94 L395.5,281.05 L396.5,281.16 L397.5,281.26 L398.5,281.36 L399.5,281.45 L400.5,281.54 L401.5,281.63 L402.5,281.71 L403.5,281.79 L404.5,281.86 L405.5,281.93 L406.5,282 L407.5,282.06 L408.5,282.12 L409.5,282.18 L410.5,282.23 L411.5,282.28 L412.5,282.33 L413.5,282.38 L414.5,282.42 L415.5,282.47 L416.5,282.5 L417.5,282.54 L418.5,282.58 L419.5,282.61 L420.5,282.64 L421.5,282.67 L422.5,282.7 L423.5,282.73 L424.5,282.75 L425.5,282.77 L426.5,282.8 L427.5,282.82 L428.5,282.83 L429.5,282.85 L430.5,282.87 L431.5,282.89 L432.5,282.9 L433.5,282.91 L434.5,282.93 L435.5,282.94 L436.5,282.95 L437.5,282.96 L438.5,282.97 L439.5,282.98 L440.5,282.99 L441.5,283 L442.5,283.01 L443.5,283.01 L444.5,283.02 L445.5,283.03 L446.5,283.03 L447.5,283.04 L448.5,283.04 L449.5,283.05 L450.5,283.05 L451.5,283.05 L452.5,283.06 L453.5,283.06 L454.5,283.06 L455.5,283.07 L456.5,283.07 L457.5,283.07 L458.5,283.07" fill="none" stroke="#1c3cdc" stroke-width="1.6"/>
<path d="M207.5,328.53 L208.5,328.51 L209.5,328.49 L210.5,328.45 L211.5,328.41 L212.5,328.36 L213.5,328.3 L214.5,328.22 L215.5,328.13 L216.5,328.01 L217.5,327.88 L218.5,327.71 L219.5,327.52 L220.5,327.29 L221.5,327.02 L222.5,326.71 L223.5,326.35 L224.5,325.94 L225.5,325.47 L226.5,324.94 L227.5,324.35 L228.5,323.69 L229.5,322.96 L230.5,322.16 L231.5,321.29 L232.5,320.36 L233.5,319.36 L234.5,318.29 L235.5,317.17 L236.5,316.01 L237.5,314.81 L238.5,313.58 L239.5,312.34 L240.5,311.1 L241.5,309.88 L242.5,308.7 L243.5,307.56 L244.5,306.48 L245.5,305.49 L246.5,304.6 L247.5,303.82 L248.5,303.17 L249.5,302.65 L250.5,302.28 L251.5,302.06 L252.5,302 L253.5,302.1 L254.5,302.34 L255.5,302.75 L256.5,303.29 L257.5,303.97 L258.5,304.77 L259.5,305.69 L260.5,306.69 L261.5,307.78 L262.5,308.93 L263.5,310.13 L264.5,311.35 L265.5,312.59 L266.5,313.83 L267.5,315.05 L268.5,316.25 L269.5,317.4 L270.5,318.51 L271.5,319.56 L272.5,320.55 L273.5,321.47 L274.5,322.33 L275.5,323.11 L276.5,323.83 L277.5,324.48 L278.5,325.06 L279.5,325.57 L280.5,326.03 L281.5,326.43 L282.5,326.78 L283.5,327.08 L284.5,327.34 L285.5,327.56 L286.5,327.75 L287.5,327.91 L288.5,328.04 L289.5,328.15 L290.5,328.24 L291.5,328.31 L292.5,328.37 L293.5,328.42 L294.5,328.46 L295.5,328.49 L296.5,328.52 L297.5,328.54 L298.5,328.55 L299.5,328.56 L300.5,328.57 L301.5,328.58 L302.5,328.58 L303.5,328.59 L304.5,328.59 L305.5,328.59 L306.5,328.6 L307.5,328.6 L308.5,328.6 L309.5,328.6 L310.5,328.6 L311.5,328.6 L312.5,328.6 L313.5,328.6 L314.5,328.6 L315.5,328.6 L316.5,328.6 L317.5,328.6 L318.5,328.6 L319.5,328.6 L320.5,328.6 L321.5,328.6 L322.5,328.6 L323.5,328.6 L324.5,328.6 L325.5,328.6 L326.5,328.6 L327.5,328.6 L328.5,328.6 L329.5,328.6 L330.5,328.6 L331.5,328.6 L332.5,328.6 L333.5,328.6 L334.5,328.6 L335.5,328.6 L336.5,328.6 L337.5,328.6 L338.5,328.6 L339.5,328.6 L340.5,328.6 L341.5,328.6 L342.5,328.6 L343.5,328.6 L344.5,328.6 L345.5,328.6 L346.5,328.6 L347.5,328.6 L348.5,328.6 L349.5,328.6 L350.5,328.6 L351.5,328.6 L352.5,328.6 L353.5,328.6 L354.5,328.6 L355.5,328.6 L356.5,328.6 L357.5,328.6 L358.5,328.6 L359.5,328.6 L360.5,328.6 L361.5,328.6 L362.5,328.6 L363.5,328.6 L364.5,328.6 L365.5,328.6 L366.5,328.6 L367.5,328.6 L368.5,328.6 L369.5,328.6 L370.5,328.6 L371.5,328.6 L372.5,328.6 L373.5,328.6 L374.5,328.6 L375.5,328.6 L376.5,328.6 L377.5,328.6 L378.5,328.6 L379.5,328.6 L380.5,328.6 L381.5,328.6 L382.5,328.6 L383.5,328.6 L384.5,328.6 L385.5,328.6 L386.5,328.6 L387.5,328.6 L388.5,328.6 L389.5,328.6 L390.5,328.6 L391.5,328.6 L392.5,328.6 L393.5,328.6 L394.5,328.6 L395.5,328.6 L396.5,328.6 L397.5,328.6 L398.5,328.6 L399.5,328.6 L400.5,328.6 L401.5,328.6 L402.5,328.6 L403.5,328.6 L404.5,328.6 L405.5,328.6 L406.5,328.6 L407.5,328.6 L408.5,328.6 L409.5,328.6 L410.5,328.6 L411.5,328.6 L412.5,328.6 L413.5,328.6 L414.5,328.6 L415.5,328.6 L416.5,328.6 L417.5,328.6 L418.5,328.6 L419.5,328.6 L420.5,328.6 L421.5,328.6 L422.5,328.6 L423.5,328.6 L424.5,328.6 L425.5,328.6 L426.5,328.6 L427.5,328.6 L428.5,328.6 L429.5,328.6 L430.5,328.6 L431.5,328.6 L432.5,328.6 L433.5,328.6 L434.5,328.6 L435.5,328.6 L436.5,328.6 L437.5,328.6 L438.5,328.6 L439.5,328.6 L440.5,328.6 L441.5,328.6 L442.5,328.6 L443.5,328.6 L444.5,328.6 L445.5,328.6 L446.5,328.6 L447.5,328.6 L448.5,328.6 L449.5,328.6 L450.5,328.6 L451.5,328.6 L452.5,328.6 L453.5,328.6 L454.5,328.6 L455.5,328.6 L456.5,328.6 L457.5,328.6 L458.5,328.6" fill="none" stroke="#ff1010" stroke-width="1.6"/>
<path d="M207.5,327.56 L208.5,327.49 L209.5,327.42 L210.5,327.35 L211.5,327.27 L212.5,327.19 L213.5,327.1 L214.5,327.01 L215.5,326.91 L216.5,326.81 L217.5,326.7 L218.5,326.59 L219.5,326.47 L220.5,326.35 L221.5,326.22 L222.5,326.09 L223.5,325.95 L224.5,325.8 L225.5,325.65 L226.5,325.49 L227.5,325.33 L228.5,325.16 L229.5,324.98 L230.5,324.79 L231.5,324.6 L232.5,324.4 L233.5,324.19 L234.5,323.98 L235.5,323.75 L236.5,323.52 L237.5,323.29 L238.5,323.04 L239.5,322.79 L240.5,322.52 L241.5,322.25 L242.5,321.98 L243.5,321.69 L244.5,321.4 L245.5,321.1 L246.5,320.79 L247.5,320.47 L248.5,320.14 L249.5,319.81 L250.5,319.47 L251.5,319.12 L252.5,318.76 L253.5,318.4 L254.5,318.03 L255.5,317.65 L256.5,317.27 L257.5,316.88 L258.5,316.48 L259.5,316.08 L260.5,315.67 L261.5,315.25 L262.5,314.83 L263.5,314.41 L264.5,313.98 L265.5,313.55 L266.5,313.11 L267.5,312.67 L268.5,312.23 L269.5,311.79 L270.5,311.34 L271.5,310.89 L272.5,310.45 L273.5,310 L274.5,309.55 L275.5,309.1 L276.5,308.66 L277.5,308.21 L278.5,307.77 L279.5,307.33 L280.5,306.9 L281.5,306.47 L282.5,306.04 L283.5,305.62 L284.5,305.21 L285.5,304.8 L286.5,304.4 L287.5,304.01 L288.5,303.63 L289.5,303.25 L290.5,302.89 L291.5,302.54 L292.5,302.19 L293.5,301.86 L294.5,301.54 L295.5,301.23 L296.5,300.94 L297.5,300.66 L298.5,300.39 L299.5,300.14 L300.5,299.9 L301.5,299.68 L302.5,299.47 L303.5,299.28 L304.5,299.1 L305.5,298.94 L306.5,298.8 L307.5,298.68 L308.5,298.57 L309.5,298.48 L310.5,298.41 L311.5,298.36 L312.5,298.32 L313.5,298.3 L314.5,298.3 L315.5,298.32 L316.5,298.36 L317.5,298.41 L318.5,298.48 L319.5,298.57 L320.5,298.68 L321.5,298.8 L322.5,298.94 L323.5,299.1 L324.5,299.28 L325.5,299.47 L326.5,299.68 L327.5,299.9 L328.5,300.14 L329.5,300.39 L330.5,300.66 L331.5,300.94 L332.5,301.23 L333.5,301.54 L334.5,301.86 L335.5,302.19 L336.5,302.54 L337.5,302.89 L338.5,303.25 L339.5,303.63 L340.5,304.01 L341.5,304.4 L342.5,304.8 L343.5,305.21 L344.5,305.62 L345.5,306.04 L346.5,306.47 L347.5,306.9 L348.5,307.33 L349.5,307.77 L350.5,308.21 L351.5,308.66 L352.5,309.1 L353.5,309.55 L354.5,310 L355.5,310.45 L356.5,310.89 L357.5,311.34 L358.5,311.79 L359.5,312.23 L360.5,312.67 L361.5,313.11 L362.5,313.55 L363.5,313.98 L364.5,314.41 L365.5,314.83 L366.5,315.25 L367.5,315.67 L368.5,316.08 L369.5,316.48 L370.5,316.88 L371.5,317.27 L372.5,317.65 L373.5,318.03 L374.5,318.4 L375.5,318.76 L376.5,319.12 L377.5,319.47 L378.5,319.81 L379.5,320.14 L380.5,320.47 L381.5,320.79 L382.5,321.1 L383.5,321.4 L384.5,321.69 L385.5,321.98 L386.5,322.25 L387.5,322.52 L388.5,322.79 L389.5,323.04 L390.5,323.29 L391.5,323.52 L392.5,323.75 L393.5,323.98 L394.5,324.19 L395.5,324.4 L396.5,324.6 L397.5,324.79 L398.5,324.98 L399.5,325.16 L400.5,325.33 L401.5,325.49 L402.5,325.65 L403.5,325.8 L404.5,325.95 L405.5,326.09 L406.5,326.22 L407.5,326.35 L408.5,326.47 L409.5,326.59 L410.5,326.7 L411.5,326.81 L412.5,326.91 L413.5,327.01 L414.5,327.1 L415.5,327.19 L416.5,327.27 L417.5,327.35 L418.5,327.42 L419.5,327.49 L420.5,327.56 L421.5,327.63 L422.5,327.69 L423.5,327.74 L424.5,327.8 L425.5,327.85 L426.5,327.9 L427.5,327.94 L428.5,327.99 L429.5,328.03 L430.5,328.07 L431.5,328.1 L432.5,328.13 L433.5,328.17 L434.5,328.2 L435.5,328.22 L436.5,328.25 L437.5,328.28 L438.5,328.3 L439.5,328.32 L440.5,328.34 L441.5,328.36 L442.5,328.38 L443.5,328.39 L444.5,328.41 L445.5,328.42 L446.5,328.44 L447.5,328.45 L448.5,328.46 L449.5,328.47 L450.5,328.48 L451.5,328.49 L452.5,328.5 L453.5,328.51 L454.5,328.51 L455.5,328.52 L456.5,328.53 L457.5,328.53 L458.5,328.54" fill="none" stroke="#1c3cdc" stroke-width="1.6"/>
<path d="M207.5,53.69 L208.5,53.49 L209.5,53.27 L210.5,53.02 L211.5,52.75 L212.5,52.45 L213.5,52.13 L214.5,51.78 L215.5,51.41 L216.5,51.02 L217.5,50.61 L218.5,50.19 L219.5,49.76 L220.5,49.32 L221.5,48.87 L222.5,48.43 L223.5,48 L224.5,47.59 L225.5,47.19 L226.5,46.82 L227.5,46.48 L228.5,46.19 L229.5,45.93 L230.5,45.72 L231.5,45.56 L232.5,45.45 L233.5,45.4 L234.5,45.41 L235.5,45.44 L236.5,45.51 L237.5,45.61 L238.5,45.74 L239.5,45.9 L240.5,46.09 L241.5,46.3 L242.5,46.54 L243.5,46.8 L244.5,47.08 L245.5,47.37 L246.5,47.68 L247.5,48 L248.5,48.33 L249.5,48.66 L250.5,49 L251.5,49.34 L252.5,49.68 L253.5,50.01 L254.5,50.34 L255.5,50.66 L256.5,50.97 L257.5,51.28 L258.5,51.57 L259.5,51.84 L260.5,52.11 L261.5,52.36 L262.5,52.59 L263.5,52.81 L264.5,53.02 L265.5,53.21 L266.5,53.39 L267.5,53.55 L268.5,53.7 L269.5,53.84 L270.5,53.96 L271.5,54.08 L272.5,54.18 L273.5,54.27 L274.5,54.35 L275.5,54.42 L276.5,54.49 L277.5,54.55 L278.5,54.6 L279.5,54.64 L280.5,54.68 L281.5,54.71 L282.5,54.74 L283.5,54.77 L284.5,54.79 L285.5,54.81 L286.5,54.82 L287.5,54.83 L288.5,54.85 L289.5,54.85 L290.5,54.86 L291.5,54.87 L292.5,54.87 L293.5,54.88 L294.5,54.88 L295.5,54.89 L296.5,54.89 L297.5,54.89 L298.5,54.89 L299.5,54.89 L300.5,54.9 L301.5,54.9 L302.5,54.9 L303.5,54.9 L304.5,54.9 L305.5,54.9 L306.5,54.9 L307.5,54.9 L308.5,54.9 L309.5,54.9 L310.5,54.9 L311.5,54.9 L312.5,54.9 L313.5,54.89 L314.5,54.89 L315.5,54.89 L316.5,54.89 L317.5,54.89 L318.5,54.89 L319.5,54.89 L320.5,54.88 L321.5,54.88 L322.5,54.88 L323.5,54.87 L324.5,54.87 L325.5,54.87 L326.5,54.86 L327.5,54.85 L328.5,54.85 L329.5,54.84 L330.5,54.83 L331.5,54.82 L332.5,54.8 L333.5,54.79 L334.5,54.77 L335.5,54.76 L336.5,54.73 L337.5,54.71 L338.5,54.69 L339.5,54.66 L340.5,54.62 L341.5,54.58 L342.5,54.54 L343.5,54.5 L344.5,54.44 L345.5,54.39 L346.5,54.32 L347.5,54.25 L348.5,54.17 L349.5,54.08 L350.5,53.99 L351.5,53.88 L352.5,53.77 L353.5,53.64 L354.5,53.5 L355.5,53.35 L356.5,53.18 L357.5,53 L358.5,52.81 L359.5,52.6 L360.5,52.37 L361.5,52.12 L362.5,51.86 L363.5,51.57 L364.5,51.26 L365.5,50.94 L366.5,50.59 L367.5,50.21 L368.5,49.82 L369.5,49.39 L370.5,48.95 L371.5,48.48 L372.5,47.98 L373.5,47.45 L374.5,46.9 L375.5,46.33 L376.5,45.72 L377.5,45.09 L378.5,44.44 L379.5,43.76 L380.5,43.05 L381.5,42.33 L382.5,41.58 L383.5,40.8 L384.5,40.01 L385.5,39.2 L386.5,38.38 L387.5,37.54 L388.5,36.68 L389.5,35.82 L390.5,34.95 L391.5,34.07 L392.5,33.19 L393.5,32.31 L394.5,31.44 L395.5,30.57 L396.5,29.71 L397.5,28.87 L398.5,28.04 L399.5,27.23 L400.5,26.45 L401.5,25.69 L402.5,24.96 L403.5,24.26 L404.5,23.6 L405.5,22.98 L406.5,22.4 L407.5,21.87 L408.5,21.38 L409.5,20.94 L410.5,20.55 L411.5,20.22 L412.5,19.94 L413.5,19.72 L414.5,19.56 L415.5,19.45 L416.5,19.4 L417.5,19.41 L418.5,19.49 L419.5,19.61 L420.5,19.8 L421.5,20.05 L422.5,20.35 L423.5,20.7 L424.5,21.11 L425.5,21.57 L426.5,22.08 L427.5,22.63 L428.5,23.23 L429.5,23.86 L430.5,24.54 L431.5,25.25 L432.5,25.99 L433.5,26.76 L434.5,27.55 L435.5,28.37 L436.5,29.21 L437.5,30.06 L438.5,30.92 L439.5,31.79 L440.5,32.67 L441.5,33.54 L442.5,34.42 L443.5,35.3 L444.5,36.17 L445.5,37.02 L446.5,37.87 L447.5,38.71 L448.5,39.53 L449.5,40.33 L450.5,41.12 L451.5,41.88 L452.5,42.62 L453.5,43.34 L454.5,44.03 L455.5,44.7 L456.5,45.35 L457.5,45.97 L458.5,46.56" fill="none" stroke="#000" stroke-width="1.6"/>
<path d="M207.5,91.86 L208.5,90.45 L209.5,88.9 L210.5,87.21 L211.5,85.39 L212.5,83.45 L213.5,81.42 L214.5,79.32 L215.5,77.16 L216.5,74.99 L217.5,72.84 L218.5,70.74 L219.5,68.74 L220.5,66.87 L221.5,65.17 L222.5,63.68 L223.5,62.43 L224.5,61.45 L225.5,60.76 L226.5,60.38 L227.5,60.31 L228.5,60.54 L229.5,61.05 L230.5,61.84 L231.5,62.88 L232.5,64.15 L233.5,65.63 L234.5,67.28 L235.5,69.09 L236.5,71.01 L237.5,73 L238.5,75.05 L239.5,77.11 L240.5,79.15 L241.5,81.16 L242.5,83.1 L243.5,84.95 L244.5,86.71 L245.5,88.35 L246.5,89.87 L247.5,91.27 L248.5,92.54 L249.5,93.68 L250.5,94.69 L251.5,95.59 L252.5,96.37 L253.5,97.05 L254.5,97.64 L255.5,98.14 L256.5,98.56 L257.5,98.92 L258.5,99.21 L259.5,99.45 L260.5,99.65 L261.5,99.81 L262.5,99.94 L263.5,100.05 L264.5,100.13 L265.5,100.19 L266.5,100.24 L267.5,100.28 L268.5,100.31 L269.5,100.34 L270.5,100.35 L271.5,100.37 L272.5,100.37 L273.5,100.38 L274.5,100.39 L275.5,100.39 L276.5,100.39 L277.5,100.4 L278.5,100.4 L279.5,100.4 L280.5,100.4 L281.5,100.4 L282.5,100.4 L283.5,100.4 L284.5,100.4 L285.5,100.4 L286.5,100.4 L287.5,100.4 L288.5,100.4 L289.5,100.4 L290.5,100.4 L291.5,100.4 L292.5,100.4 L293.5,100.4 L294.5,100.4 L295.5,100.4 L296.5,100.4 L297.5,100.4 L298.5,100.4 L299.5,100.4 L300.5,100.4 L301.5,100.4 L302.5,100.4 L303.5,100.4 L304.5,100.4 L305.5,100.4 L306.5,100.4 L307.5,100.4 L308.5,100.4 L309.5,100.4 L310.5,100.4 L311.5,100.4 L312.5,100.4 L313.5,100.4 L314.5,100.4 L315.5,100.4 L316.5,100.4 L317.5,100.4 L318.5,100.4 L319.5,100.4 L320.5,100.4 L321.5,100.4 L322.5,100.4 L323.5,100.4 L324.5,100.4 L325.5,100.4 L326.5,100.4 L327.5,100.4 L328.5,100.4 L329.5,100.4 L330.5,100.4 L331.5,100.4 L332.5,100.4 L333.5,100.4 L334.5,100.4 L335.5,100.4 L336.5,100.4 L337.5,100.4 L338.5,100.4 L339.5,100.4 L340.5,100.4 L341.5,100.4 L342.5,100.4 L343.5,100.4 L344.5,100.4 L345.5,100.4 L346.5,100.4 L347.5,100.4 L348.5,100.4 L349.5,100.4 L350.5,100.4 L351.5,100.4 L352.5,100.4 L353.5,100.4 L354.5,100.4 L355.5,100.4 L356.5,100.4 L357.5,100.4 L358.5,100.4 L359.5,100.4 L360.5,100.4 L361.5,100.4 L362.5,100.4 L363.5,100.4 L364.5,100.4 L365.5,100.4 L366.5,100.4 L367.5,100.4 L368.5,100.4 L369.5,100.4 L370.5,100.4 L371.5,100.4 L372.5,100.4 L373.5,100.4 L374.5,100.4 L375.5,100.4 L376.5,100.4 L377.5,100.4 L378.5,100.4 L379.5,100.4 L380.5,100.4 L381.5,100.4 L382.5,100.4 L383.5,100.4 L384.5,100.4 L385.5,100.4 L386.5,100.4 L387.5,100.4 L388.5,100.4 L389.5,100.4 L390.5,100.4 L391.5,100.4 L392.5,100.4 L393.5,100.4 L394.5,100.4 L395.5,100.4 L396.5,100.4 L397.5,100.4 L398.5,100.4 L399.5,100.4 L400.5,100.4 L401.5,100.4 L402.5,100.4 L403.5,100.4 L404.5,100.4 L405.5,100.4 L406.5,100.4 L407.5,100.4 L408.5,100.4 L409.5,100.4 L410.5,100.4 L411.5,100.4 L412.5,100.4 L413.5,100.4 L414.5,100.4 L415.5,100.4 L416.5,100.4 L417.5,100.4 L418.5,100.4 L419.5,100.4 L420.5,100.4 L421.5,100.4 L422.5,100.4 L423.5,100.4 L424.5,100.4 L425.5,100.4 L426.5,100.4 L427.5,100.4 L428.5,100.4 L429.5,100.4 L430.5,100.4 L431.5,100.4 L432.5,100.4 L433.5,100.4 L434.5,100.4 L435.5,100.4 L436.5,100.4 L437.5,100.4 L438.5,100.4 L439.5,100.4 L440.5,100.4 L441.5,100.4 L442.5,100.4 L443.5,100.4 L444.5,100.4 L445.5,100.4 L446.5,100.4 L447.5,100.4 L448.5,100.4 L449.5,100.4 L450.5,100.4 L451.5,100.4 L452.5,100.4 L453.5,100.4 L454.5,100.4 L455.5,100.4 L456.5,100.4 L457.5,100.4 L458.5,100.4" fill="none" stroke="#000" stroke-width="1.6"/>
<path d="M207.5,141.11 L208.5,140.57 L209.5,139.97 L210.5,139.32 L211.5,138.61 L212.5,137.86 L213.5,137.04 L214.5,136.18 L215.5,135.25 L216.5,134.28 L217.5,133.25 L218.5,132.17 L219.5,131.05 L220.5,129.89 L221.5,128.7 L222.5,127.47 L223.5,126.23 L224.5,124.97 L225.5,123.7 L226.5,122.44 L227.5,121.19 L228.5,119.96 L229.5,118.76 L230.5,117.6 L231.5,116.5 L232.5,115.45 L233.5,114.48 L234.5,113.58 L235.5,112.76 L236.5,112.04 L237.5,111.41 L238.5,110.89 L239.5,110.47 L240.5,110.15 L241.5,109.94 L242.5,109.84 L243.5,109.85 L244.5,109.95 L245.5,110.15 L246.5,110.45 L247.5,110.83 L248.5,111.29 L249.5,111.82 L250.5,112.42 L251.5,113.07 L252.5,113.77 L253.5,114.51 L254.5,115.28 L255.5,116.07 L256.5,116.88 L257.5,117.7 L258.5,118.52 L259.5,119.33 L260.5,120.14 L261.5,120.93 L262.5,121.7 L263.5,122.45 L264.5,123.18 L265.5,123.89 L266.5,124.61 L267.5,125.33 L268.5,126.06 L269.5,126.8 L270.5,127.54 L271.5,128.29 L272.5,129.03 L273.5,129.77 L274.5,130.52 L275.5,131.26 L276.5,132 L277.5,132.72 L278.5,133.45 L279.5,134.16 L280.5,134.86 L281.5,135.54 L282.5,136.21 L283.5,136.86 L284.5,137.49 L285.5,138.1 L286.5,138.68 L287.5,139.24 L288.5,139.78 L289.5,140.29 L290.5,140.77 L291.5,141.23 L292.5,141.66 L293.5,142.06 L294.5,142.44 L295.5,142.79 L296.5,143.11 L297.5,143.41 L298.5,143.68 L299.5,143.93 L300.5,144.16 L301.5,144.36 L302.5,144.55 L303.5,144.72 L304.5,144.87 L305.5,145 L306.5,145.12 L307.5,145.23 L308.5,145.32 L309.5,145.4 L310.5,145.48 L311.5,145.54 L312.5,145.59 L313.5,145.64 L314.5,145.68 L315.5,145.72 L316.5,145.75 L317.5,145.77 L318.5,145.79 L319.5,145.81 L320.5,145.83 L321.5,145.84 L322.5,145.85 L323.5,145.86 L324.5,145.87 L325.5,145.87 L326.5,145.88 L327.5,145.88 L328.5,145.89 L329.5,145.89 L330.5,145.89 L331.5,145.89 L332.5,145.89 L333.5,145.9 L334.5,145.9 L335.5,145.9 L336.5,145.9 L337.5,145.9 L338.5,145.9 L339.5,145.9 L340.5,145.9 L341.5,145.9 L342.5,145.9 L343.5,145.9 L344.5,145.9 L345.5,145.9 L346.5,145.9 L347.5,145.9 L348.5,145.9 L349.5,145.9 L350.5,145.9 L351.5,145.9 L352.5,145.9 L353.5,145.9 L354.5,145.9 L355.5,145.9 L356.5,145.9 L357.5,145.9 L358.5,145.9 L359.5,145.9 L360.5,145.9 L361.5,145.9 L362.5,145.9 L363.5,145.9 L364.5,145.9 L365.5,145.9 L366.5,145.9 L367.5,145.9 L368.5,145.9 L369.5,145.9 L370.5,145.9 L371.5,145.9 L372.5,145.9 L373.5,145.9 L374.5,145.9 L375.5,145.9 L376.5,145.9 L377.5,145.9 L378.5,145.9 L379.5,145.9 L380.5,145.9 L381.5,145.9 L382.5,145.9 L383.5,145.9 L384.5,145.9 L385.5,145.9 L386.5,145.9 L387.5,145.9 L388.5,145.9 L389.5,145.9 L390.5,145.9 L391.5,145.9 L392.5,145.9 L393.5,145.9 L394.5,145.9 L395.5,145.9 L396.5,145.9 L397.5,145.9 L398.5,145.9 L399.5,145.9 L400.5,145.9 L401.5,145.9 L402.5,145.9 L403.5,145.9 L404.5,145.9 L405.5,145.9 L406.5,145.9 L407.5,145.9 L408.5,145.9 L409.5,145.9 L410.5,145.9 L411.5,145.9 L412.5,145.9 L413.5,145.9 L414.5,145.9 L415.5,145.9 L416.5,145.9 L417.5,145.9 L418.5,145.9 L419.5,145.9 L420.5,145.9 L421.5,145.9 L422.5,145.9 L423.5,145.9 L424.5,145.9 L425.5,145.9 L426.5,145.9 L427.5,145.9 L428.5,145.9 L429.5,145.9 L430.5,145.9 L431.5,145.9 L432.5,145.9 L433.5,145.9 L434.5,145.9 L435.5,145.9 L436.5,145.9 L437.5,145.9 L438.5,145.9 L439.5,145.9 L440.5,145.9 L441.5,145.9 L442.5,145.9 L443.5,145.9 L444.5,145.9 L445.5,145.9 L446.5,145.9 L447.5,145.9 L448.5,145.9 L449.5,145.9 L450.5,145.9 L451.5,145.9 L452.5,145.9 L453.5,145.9 L454.5,145.9 L455.5,145.9 L456.5,145.9 L457.5,145.9 L458.5,145.9" fill="none" stroke="#000" stroke-width="1.6"/>
<path d="M207.5,187.06 L208.5,186.36 L209.5,185.57 L210.5,184.7 L211.5,183.74 L212.5,182.7 L213.5,181.56 L214.5,180.35 L215.5,179.04 L216.5,177.67 L217.5,176.21 L218.5,174.7 L219.5,173.13 L220.5,171.52 L221.5,169.88 L222.5,168.23 L223.5,166.58 L224.5,164.95 L225.5,163.35 L226.5,161.82 L227.5,160.36 L228.5,158.99 L229.5,157.73 L230.5,156.59 L231.5,155.59 L232.5,154.74 L233.5,154.05 L234.5,153.52 L235.5,153.17 L236.5,152.99 L237.5,152.98 L238.5,153.13 L239.5,153.45 L240.5,153.92 L241.5,154.52 L242.5,155.26 L243.5,156.11 L244.5,157.05 L245.5,158.08 L246.5,159.17 L247.5,160.31 L248.5,161.48 L249.5,162.67 L250.5,163.87 L251.5,165.06 L252.5,166.23 L253.5,167.37 L254.5,168.47 L255.5,169.54 L256.5,170.55 L257.5,171.52 L258.5,172.43 L259.5,173.29 L260.5,174.1 L261.5,174.87 L262.5,175.58 L263.5,176.25 L264.5,176.88 L265.5,177.47 L266.5,178.04 L267.5,178.57 L268.5,179.07 L269.5,179.56 L270.5,180.02 L271.5,180.47 L272.5,180.91 L273.5,181.33 L274.5,181.75 L275.5,182.16 L276.5,182.56 L277.5,182.95 L278.5,183.34 L279.5,183.73 L280.5,184.1 L281.5,184.48 L282.5,184.84 L283.5,185.2 L284.5,185.55 L285.5,185.89 L286.5,186.23 L287.5,186.56 L288.5,186.87 L289.5,187.18 L290.5,187.47 L291.5,187.75 L292.5,188.03 L293.5,188.29 L294.5,188.53 L295.5,188.77 L296.5,188.99 L297.5,189.2 L298.5,189.4 L299.5,189.59 L300.5,189.77 L301.5,189.93 L302.5,190.08 L303.5,190.22 L304.5,190.35 L305.5,190.48 L306.5,190.59 L307.5,190.69 L308.5,190.78 L309.5,190.87 L310.5,190.95 L311.5,191.02 L312.5,191.09 L313.5,191.14 L314.5,191.2 L315.5,191.24 L316.5,191.29 L317.5,191.32 L318.5,191.36 L319.5,191.39 L320.5,191.42 L321.5,191.44 L322.5,191.46 L323.5,191.48 L324.5,191.5 L325.5,191.51 L326.5,191.52 L327.5,191.53 L328.5,191.54 L329.5,191.55 L330.5,191.56 L331.5,191.56 L332.5,191.57 L333.5,191.57 L334.5,191.58 L335.5,191.58 L336.5,191.58 L337.5,191.59 L338.5,191.59 L339.5,191.59 L340.5,191.59 L341.5,191.59 L342.5,191.59 L343.5,191.6 L344.5,191.6 L345.5,191.6 L346.5,191.6 L347.5,191.6 L348.5,191.6 L349.5,191.6 L350.5,191.6 L351.5,191.6 L352.5,191.6 L353.5,191.6 L354.5,191.6 L355.5,191.6 L356.5,191.6 L357.5,191.6 L358.5,191.6 L359.5,191.6 L360.5,191.6 L361.5,191.6 L362.5,191.6 L363.5,191.6 L364.5,191.6 L365.5,191.6 L366.5,191.6 L367.5,191.6 L368.5,191.6 L369.5,191.6 L370.5,191.6 L371.5,191.6 L372.5,191.6 L373.5,191.6 L374.5,191.6 L375.5,191.6 L376.5,191.6 L377.5,191.6 L378.5,191.6 L379.5,191.6 L380.5,191.6 L381.5,191.6 L382.5,191.6 L383.5,191.6 L384.5,191.6 L385.5,191.6 L386.5,191.6 L387.5,191.6 L388.5,191.6 L389.5,191.6 L390.5,191.6 L391.5,191.6 L392.5,191.6 L393.5,191.6 L394.5,191.6 L395.5,191.6 L396.5,191.6 L397.5,191.6 L398.5,191.6 L399.5,191.6 L400.5,191.6 L401.5,191.6 L402.5,191.6 L403.5,191.6 L404.5,191.6 L405.5,191.6 L406.5,191.6 L407.5,191.6 L408.5,191.6 L409.5,191.6 L410.5,191.6 L411.5,191.6 L412.5,191.6 L413.5,191.6 L414.5,191.6 L415.5,191.6 L416.5,191.6 L417.5,191.6 L418.5,191.6 L419.5,191.6 L420.5,191.6 L421.5,191.6 L422.5,191.6 L423.5,191.6 L424.5,191.6 L425.5,191.6 L426.5,191.6 L427.5,191.6 L428.5,191.6 L429.5,191.6 L430.5,191.6 L431.5,191.6 L432.5,191.6 L433.5,191.6 L434.5,191.6 L435.5,191.6 L436.5,191.6 L437.5,191.6 L438.5,191.6 L439.5,191.6 L440.5,191.6 L441.5,191.6 L442.5,191.6 L443.5,191.6 L444.5,191.6 L445.5,191.6 L446.5,191.6 L447.5,191.6 L448.5,191.6 L449.5,191.6 L450.5,191.6 L451.5,191.6 L452.5,191.6 L453.5,191.6 L454.5,191.6 L455.5,191.6 L456.5,191.6 L457.5,191.6 L458.5,191.6" fill="none" stroke="#000" stroke-width="1.6"/>
<path d="M207.5,234.99 L208.5,234.62 L209.5,234.17 L210.5,233.63 L211.5,232.98 L212.5,232.21 L213.5,231.3 L214.5,230.24 L215.5,229.01 L216.5,227.62 L217.5,226.04 L218.5,224.29 L219.5,222.37 L220.5,220.31 L221.5,218.12 L222.5,215.84 L223.5,213.51 L224.5,211.17 L225.5,208.88 L226.5,206.7 L227.5,204.67 L228.5,202.86 L229.5,201.31 L230.5,200.07 L231.5,199.17 L232.5,198.62 L233.5,198.44 L234.5,198.63 L235.5,199.15 L236.5,199.99 L237.5,201.11 L238.5,202.44 L239.5,203.95 L240.5,205.58 L241.5,207.26 L242.5,208.95 L243.5,210.6 L244.5,212.17 L245.5,213.62 L246.5,214.92 L247.5,216.07 L248.5,217.04 L249.5,217.84 L250.5,218.47 L251.5,218.93 L252.5,219.25 L253.5,219.42 L254.5,219.48 L255.5,219.43 L256.5,219.28 L257.5,219.07 L258.5,218.79 L259.5,218.47 L260.5,218.1 L261.5,217.71 L262.5,217.3 L263.5,216.87 L264.5,216.44 L265.5,216 L266.5,215.56 L267.5,215.13 L268.5,214.7 L269.5,214.27 L270.5,213.86 L271.5,213.46 L272.5,213.07 L273.5,212.69 L274.5,212.32 L275.5,211.98 L276.5,211.64 L277.5,211.33 L278.5,211.03 L279.5,210.75 L280.5,210.49 L281.5,210.25 L282.5,210.02 L283.5,209.82 L284.5,209.64 L285.5,209.48 L286.5,209.35 L287.5,209.23 L288.5,209.14 L289.5,209.07 L290.5,209.03 L291.5,209 L292.5,209 L293.5,209.03 L294.5,209.08 L295.5,209.16 L296.5,209.26 L297.5,209.39 L298.5,209.54 L299.5,209.72 L300.5,209.92 L301.5,210.15 L302.5,210.4 L303.5,210.67 L304.5,210.96 L305.5,211.27 L306.5,211.6 L307.5,211.96 L308.5,212.33 L309.5,212.71 L310.5,213.12 L311.5,213.53 L312.5,213.97 L313.5,214.41 L314.5,214.87 L315.5,215.34 L316.5,215.82 L317.5,216.3 L318.5,216.8 L319.5,217.3 L320.5,217.81 L321.5,218.32 L322.5,218.84 L323.5,219.36 L324.5,219.88 L325.5,220.4 L326.5,220.91 L327.5,221.43 L328.5,221.95 L329.5,222.46 L330.5,222.97 L331.5,223.47 L332.5,223.97 L333.5,224.47 L334.5,224.95 L335.5,225.43 L336.5,225.9 L337.5,226.36 L338.5,226.81 L339.5,227.26 L340.5,227.69 L341.5,228.11 L342.5,228.52 L343.5,228.93 L344.5,229.32 L345.5,229.7 L346.5,230.06 L347.5,230.42 L348.5,230.76 L349.5,231.1 L350.5,231.42 L351.5,231.73 L352.5,232.03 L353.5,232.32 L354.5,232.59 L355.5,232.86 L356.5,233.11 L357.5,233.35 L358.5,233.58 L359.5,233.81 L360.5,234.02 L361.5,234.22 L362.5,234.41 L363.5,234.59 L364.5,234.77 L365.5,234.93 L366.5,235.09 L367.5,235.23 L368.5,235.37 L369.5,235.5 L370.5,235.63 L371.5,235.75 L372.5,235.86 L373.5,235.96 L374.5,236.06 L375.5,236.15 L376.5,236.23 L377.5,236.31 L378.5,236.39 L379.5,236.46 L380.5,236.52 L381.5,236.58 L382.5,236.64 L383.5,236.69 L384.5,236.74 L385.5,236.79 L386.5,236.83 L387.5,236.87 L388.5,236.91 L389.5,236.94 L390.5,236.97 L391.5,237 L392.5,237.03 L393.5,237.05 L394.5,237.07 L395.5,237.09 L396.5,237.11 L397.5,237.13 L398.5,237.15 L399.5,237.16 L400.5,237.17 L401.5,237.18 L402.5,237.2 L403.5,237.21 L404.5,237.22 L405.5,237.22 L406.5,237.23 L407.5,237.24 L408.5,237.24 L409.5,237.25 L410.5,237.26 L411.5,237.26 L412.5,237.26 L413.5,237.27 L414.5,237.27 L415.5,237.27 L416.5,237.28 L417.5,237.28 L418.5,237.28 L419.5,237.28 L420.5,237.29 L421.5,237.29 L422.5,237.29 L423.5,237.29 L424.5,237.29 L425.5,237.29 L426.5,237.29 L427.5,237.29 L428.5,237.29 L429.5,237.3 L430.5,237.3 L431.5,237.3 L432.5,237.3 L433.5,237.3 L434.5,237.3 L435.5,237.3 L436.5,237.3 L437.5,237.3 L438.5,237.3 L439.5,237.3 L440.5,237.3 L441.5,237.3 L442.5,237.3 L443.5,237.3 L444.5,237.3 L445.5,237.3 L446.5,237.3 L447.5,237.3 L448.5,237.3 L449.5,237.3 L450.5,237.3 L451.5,237.3 L452.5,237.3 L453.5,237.3 L454.5,237.3 L455.5,237.3 L456.5,237.3 L457.5,237.3 L458.5,237.3" fill="none" stroke="#000" stroke-width="1.6"/>
<path d="M207.5,280.6 L208.5,280.41 L209.5,280.2 L210.5,279.98 L211.5,279.72 L212.5,279.44 L213.5,279.13 L214.5,278.78 L215.5,278.38 L216.5,277.94 L217.5,277.43 L218.5,276.87 L219.5,276.23 L220.5,275.51 L221.5,274.71 L222.5,273.81 L223.5,272.82 L224.5,271.73 L225.5,270.54 L226.5,269.24 L227.5,267.85 L228.5,266.36 L229.5,264.79 L230.5,263.14 L231.5,261.43 L232.5,259.68 L233.5,257.91 L234.5,256.14 L235.5,254.39 L236.5,252.7 L237.5,251.09 L238.5,249.58 L239.5,248.19 L240.5,246.96 L241.5,245.89 L242.5,245.01 L243.5,244.32 L244.5,243.83 L245.5,243.53 L246.5,243.43 L247.5,243.52 L248.5,243.77 L249.5,244.18 L250.5,244.73 L251.5,245.38 L252.5,246.11 L253.5,246.91 L254.5,247.74 L255.5,248.59 L256.5,249.42 L257.5,250.22 L258.5,250.98 L259.5,251.67 L260.5,252.29 L261.5,252.84 L262.5,253.3 L263.5,253.67 L264.5,253.96 L265.5,254.17 L266.5,254.31 L267.5,254.37 L268.5,254.36 L269.5,254.3 L270.5,254.19 L271.5,254.04 L272.5,253.86 L273.5,253.64 L274.5,253.41 L275.5,253.17 L276.5,252.92 L277.5,252.67 L278.5,252.42 L279.5,252.17 L280.5,251.94 L281.5,251.71 L282.5,251.5 L283.5,251.31 L284.5,251.13 L285.5,250.98 L286.5,250.84 L287.5,250.73 L288.5,250.64 L289.5,250.57 L290.5,250.52 L291.5,250.5 L292.5,250.5 L293.5,250.52 L294.5,250.55 L295.5,250.6 L296.5,250.67 L297.5,250.75 L298.5,250.85 L299.5,250.97 L300.5,251.1 L301.5,251.25 L302.5,251.42 L303.5,251.59 L304.5,251.79 L305.5,252 L306.5,252.22 L307.5,252.46 L308.5,252.71 L309.5,252.98 L310.5,253.26 L311.5,253.55 L312.5,253.85 L313.5,254.17 L314.5,254.5 L315.5,254.83 L316.5,255.18 L317.5,255.54 L318.5,255.91 L319.5,256.28 L320.5,256.67 L321.5,257.06 L322.5,257.46 L323.5,257.87 L324.5,258.28 L325.5,258.7 L326.5,259.13 L327.5,259.56 L328.5,259.99 L329.5,260.43 L330.5,260.87 L331.5,261.31 L332.5,261.76 L333.5,262.2 L334.5,262.65 L335.5,263.1 L336.5,263.55 L337.5,264 L338.5,264.45 L339.5,264.9 L340.5,265.34 L341.5,265.79 L342.5,266.23 L343.5,266.67 L344.5,267.1 L345.5,267.53 L346.5,267.96 L347.5,268.39 L348.5,268.81 L349.5,269.22 L350.5,269.63 L351.5,270.03 L352.5,270.43 L353.5,270.83 L354.5,271.21 L355.5,271.59 L356.5,271.97 L357.5,272.34 L358.5,272.7 L359.5,273.05 L360.5,273.4 L361.5,273.74 L362.5,274.07 L363.5,274.39 L364.5,274.71 L365.5,275.02 L366.5,275.33 L367.5,275.62 L368.5,275.91 L369.5,276.19 L370.5,276.46 L371.5,276.73 L372.5,276.99 L373.5,277.24 L374.5,277.48 L375.5,277.71 L376.5,277.94 L377.5,278.17 L378.5,278.38 L379.5,278.59 L380.5,278.79 L381.5,278.98 L382.5,279.17 L383.5,279.35 L384.5,279.52 L385.5,279.69 L386.5,279.85 L387.5,280.01 L388.5,280.16 L389.5,280.3 L390.5,280.44 L391.5,280.57 L392.5,280.7 L393.5,280.82 L394.5,280.94 L395.5,281.05 L396.5,281.16 L397.5,281.26 L398.5,281.36 L399.5,281.45 L400.5,281.54 L401.5,281.63 L402.5,281.71 L403.5,281.79 L404.5,281.86 L405.5,281.93 L406.5,282 L407.5,282.06 L408.5,282.12 L409.5,282.18 L410.5,282.23 L411.5,282.28 L412.5,282.33 L413.5,282.38 L414.5,282.42 L415.5,282.47 L416.5,282.5 L417.5,282.54 L418.5,282.58 L419.5,282.61 L420.5,282.64 L421.5,282.67 L422.5,282.7 L423.5,282.73 L424.5,282.75 L425.5,282.77 L426.5,282.8 L427.5,282.82 L428.5,282.83 L429.5,282.85 L430.5,282.87 L431.5,282.89 L432.5,282.9 L433.5,282.91 L434.5,282.93 L435.5,282.94 L436.5,282.95 L437.5,282.96 L438.5,282.97 L439.5,282.98 L440.5,282.99 L441.5,283 L442.5,283.01 L443.5,283.01 L444.5,283.02 L445.5,283.03 L446.5,283.03 L447.5,283.04 L448.5,283.04 L449.5,283.05 L450.5,283.05 L451.5,283.05 L452.5,283.06 L453.5,283.06 L454.5,283.06 L455.5,283.07 L456.5,283.07 L457.5,283.07 L458.5,283.07" fill="none" stroke="#000" stroke-width="1.6"/>
<path d="M207.5,327.49 L208.5,327.4 L209.5,327.3 L210.5,327.19 L211.5,327.06 L212.5,326.92 L213.5,326.77 L214.5,326.59 L215.5,326.39 L216.5,326.16 L217.5,325.9 L218.5,325.61 L219.5,325.28 L220.5,324.91 L221.5,324.49 L222.5,324.01 L223.5,323.48 L224.5,322.88 L225.5,322.21 L226.5,321.47 L227.5,320.65 L228.5,319.76 L229.5,318.78 L230.5,317.71 L231.5,316.56 L232.5,315.33 L233.5,314.02 L234.5,312.64 L235.5,311.18 L236.5,309.67 L237.5,308.11 L238.5,306.52 L239.5,304.9 L240.5,303.28 L241.5,301.67 L242.5,300.08 L243.5,298.54 L244.5,297.07 L245.5,295.68 L246.5,294.39 L247.5,293.21 L248.5,292.17 L249.5,291.27 L250.5,290.52 L251.5,289.93 L252.5,289.5 L253.5,289.24 L254.5,289.15 L255.5,289.21 L256.5,289.43 L257.5,289.78 L258.5,290.27 L259.5,290.87 L260.5,291.57 L261.5,292.35 L262.5,293.2 L263.5,294.09 L264.5,295.01 L265.5,295.94 L266.5,296.86 L267.5,297.77 L268.5,298.64 L269.5,299.47 L270.5,300.24 L271.5,300.95 L272.5,301.59 L273.5,302.16 L274.5,302.65 L275.5,303.07 L276.5,303.41 L277.5,303.68 L278.5,303.87 L279.5,304 L280.5,304.07 L281.5,304.08 L282.5,304.04 L283.5,303.95 L284.5,303.82 L285.5,303.66 L286.5,303.47 L287.5,303.25 L288.5,303.01 L289.5,302.76 L290.5,302.49 L291.5,302.22 L292.5,301.94 L293.5,301.66 L294.5,301.39 L295.5,301.11 L296.5,300.85 L297.5,300.59 L298.5,300.34 L299.5,300.1 L300.5,299.87 L301.5,299.65 L302.5,299.45 L303.5,299.26 L304.5,299.09 L305.5,298.94 L306.5,298.8 L307.5,298.67 L308.5,298.57 L309.5,298.48 L310.5,298.41 L311.5,298.36 L312.5,298.32 L313.5,298.3 L314.5,298.3 L315.5,298.32 L316.5,298.36 L317.5,298.41 L318.5,298.48 L319.5,298.57 L320.5,298.68 L321.5,298.8 L322.5,298.94 L323.5,299.1 L324.5,299.28 L325.5,299.47 L326.5,299.68 L327.5,299.9 L328.5,300.14 L329.5,300.39 L330.5,300.66 L331.5,300.94 L332.5,301.23 L333.5,301.54 L334.5,301.86 L335.5,302.19 L336.5,302.54 L337.5,302.89 L338.5,303.25 L339.5,303.63 L340.5,304.01 L341.5,304.4 L342.5,304.8 L343.5,305.21 L344.5,305.62 L345.5,306.04 L346.5,306.47 L347.5,306.9 L348.5,307.33 L349.5,307.77 L350.5,308.21 L351.5,308.66 L352.5,309.1 L353.5,309.55 L354.5,310 L355.5,310.45 L356.5,310.89 L357.5,311.34 L358.5,311.79 L359.5,312.23 L360.5,312.67 L361.5,313.11 L362.5,313.55 L363.5,313.98 L364.5,314.41 L365.5,314.83 L366.5,315.25 L367.5,315.67 L368.5,316.08 L369.5,316.48 L370.5,316.88 L371.5,317.27 L372.5,317.65 L373.5,318.03 L374.5,318.4 L375.5,318.76 L376.5,319.12 L377.5,319.47 L378.5,319.81 L379.5,320.14 L380.5,320.47 L381.5,320.79 L382.5,321.1 L383.5,321.4 L384.5,321.69 L385.5,321.98 L386.5,322.25 L387.5,322.52 L388.5,322.79 L389.5,323.04 L390.5,323.29 L391.5,323.52 L392.5,323.75 L393.5,323.98 L394.5,324.19 L395.5,324.4 L396.5,324.6 L397.5,324.79 L398.5,324.98 L399.5,325.16 L400.5,325.33 L401.5,325.49 L402.5,325.65 L403.5,325.8 L404.5,325.95 L405.5,326.09 L406.5,326.22 L407.5,326.35 L408.5,326.47 L409.5,326.59 L410.5,326.7 L411.5,326.81 L412.5,326.91 L413.5,327.01 L414.5,327.1 L415.5,327.19 L416.5,327.27 L417.5,327.35 L418.5,327.42 L419.5,327.49 L420.5,327.56 L421.5,327.63 L422.5,327.69 L423.5,327.74 L424.5,327.8 L425.5,327.85 L426.5,327.9 L427.5,327.94 L428.5,327.99 L429.5,328.03 L430.5,328.07 L431.5,328.1 L432.5,328.13 L433.5,328.17 L434.5,328.2 L435.5,328.22 L436.5,328.25 L437.5,328.28 L438.5,328.3 L439.5,328.32 L440.5,328.34 L441.5,328.36 L442.5,328.38 L443.5,328.39 L444.5,328.41 L445.5,328.42 L446.5,328.44 L447.5,328.45 L448.5,328.46 L449.5,328.47 L450.5,328.48 L451.5,328.49 L452.5,328.5 L453.5,328.51 L454.5,328.51 L455.5,328.52 L456.5,328.53 L457.5,328.53 L458.5,328.54" fill="none" stroke="#000" stroke-width="1.6"/>
<path d="M207.5,374.4 L208.5,374.4 L209.5,374.4 L210.5,374.4 L211.5,374.4 L212.5,374.4 L213.5,374.4 L214.5,374.4 L215.5,374.4 L216.5,374.4 L217.5,374.4 L218.5,374.4 L219.5,374.4 L220.5,374.4 L221.5,374.4 L222.5,374.4 L223.5,374.4 L224.5,374.4 L225.5,374.4 L226.5,374.4 L227.5,374.4 L228.5,374.4 L229.5,374.4 L230.5,374.4 L231.5,374.4 L232.5,374.4 L233.5,374.4 L234.5,374.4 L235.5,374.4 L236.5,374.4 L237.5,374.4 L238.5,374.4 L239.5,374.4 L240.5,374.4 L241.5,374.4 L242.5,374.4 L243.5,374.4 L244.5,374.4 L245.5,374.4 L246.5,374.4 L247.5,374.4 L248.5,374.4 L249.5,374.4 L250.5,374.4 L251.5,374.4 L252.5,374.4 L253.5,374.4 L254.5,374.4 L255.5,374.4 L256.5,374.4 L257.5,374.4 L258.5,374.4 L259.5,374.4 L260.5,374.4 L261.5,374.4 L262.5,374.4 L263.5,374.4 L264.5,374.4 L265.5,374.4 L266.5,374.4 L267.5,374.4 L268.5,374.4 L269.5,374.4 L270.5,374.4 L271.5,374.4 L272.5,374.4 L273.5,374.4 L274.5,374.4 L275.5,374.4 L276.5,374.4 L277.5,374.4 L278.5,374.4 L279.5,374.4 L280.5,374.4 L281.5,374.4 L282.5,374.4 L283.5,374.4 L284.5,374.4 L285.5,374.4 L286.5,374.4 L287.5,374.4 L288.5,374.4 L289.5,374.4 L290.5,374.4 L291.5,374.4 L292.5,374.4 L293.5,374.4 L294.5,374.4 L295.5,374.4 L296.5,374.4 L297.5,374.4 L298.5,374.4 L299.5,374.4 L300.5,374.4 L301.5,374.4 L302.5,374.4 L303.5,374.4 L304.5,374.4 L305.5,374.4 L306.5,374.4 L307.5,374.4 L308.5,374.4 L309.5,374.4 L310.5,374.4 L311.5,374.4 L312.5,374.4 L313.5,374.4 L314.5,374.4 L315.5,374.4 L316.5,374.4 L317.5,374.4 L318.5,374.4 L319.5,374.4 L320.5,374.4 L321.5,374.4 L322.5,374.4 L323.5,374.4 L324.5,374.4 L325.5,374.4 L326.5,374.4 L327.5,374.4 L328.5,374.4 L329.5,374.4 L330.5,374.4 L331.5,374.4 L332.5,374.4 L333.5,374.4 L334.5,374.4 L335.5,374.39 L336.5,374.39 L337.5,374.39 L338.5,374.39 L339.5,374.39 L340.5,374.38 L341.5,374.38 L342.5,374.37 L343.5,374.37 L344.5,374.36 L345.5,374.36 L346.5,374.35 L347.5,374.34 L348.5,374.32 L349.5,374.31 L350.5,374.29 L351.5,374.27 L352.5,374.24 L353.5,374.22 L354.5,374.18 L355.5,374.14 L356.5,374.1 L357.5,374.05 L358.5,373.99 L359.5,373.92 L360.5,373.84 L361.5,373.76 L362.5,373.66 L363.5,373.54 L364.5,373.42 L365.5,373.27 L366.5,373.11 L367.5,372.93 L368.5,372.73 L369.5,372.51 L370.5,372.26 L371.5,371.98 L372.5,371.68 L373.5,371.35 L374.5,370.99 L375.5,370.59 L376.5,370.16 L377.5,369.69 L378.5,369.18 L379.5,368.64 L380.5,368.05 L381.5,367.43 L382.5,366.76 L383.5,366.05 L384.5,365.29 L385.5,364.5 L386.5,363.66 L387.5,362.79 L388.5,361.88 L389.5,360.93 L390.5,359.94 L391.5,358.93 L392.5,357.88 L393.5,356.82 L394.5,355.73 L395.5,354.63 L396.5,353.52 L397.5,352.4 L398.5,351.29 L399.5,350.18 L400.5,349.09 L401.5,348.01 L402.5,346.96 L403.5,345.95 L404.5,344.98 L405.5,344.05 L406.5,343.17 L407.5,342.36 L408.5,341.61 L409.5,340.93 L410.5,340.33 L411.5,339.8 L412.5,339.36 L413.5,339.01 L414.5,338.75 L415.5,338.58 L416.5,338.5 L417.5,338.53 L418.5,338.66 L419.5,338.9 L420.5,339.25 L421.5,339.7 L422.5,340.26 L423.5,340.9 L424.5,341.64 L425.5,342.46 L426.5,343.35 L427.5,344.31 L428.5,345.34 L429.5,346.41 L430.5,347.53 L431.5,348.68 L432.5,349.86 L433.5,351.06 L434.5,352.26 L435.5,353.47 L436.5,354.68 L437.5,355.87 L438.5,357.04 L439.5,358.19 L440.5,359.31 L441.5,360.4 L442.5,361.45 L443.5,362.45 L444.5,363.41 L445.5,364.33 L446.5,365.2 L447.5,366.02 L448.5,366.79 L449.5,367.51 L450.5,368.18 L451.5,368.8 L452.5,369.38 L453.5,369.91 L454.5,370.4 L455.5,370.84 L456.5,371.25 L457.5,371.61 L458.5,371.95" fill="none" stroke="#000" stroke-width="1.6"/>
<line x1="227.8" y1="14" x2="227.8" y2="356.5" stroke="#7a0a7a" stroke-width="2" stroke-dasharray="3.6 1.4"/>
<line x1="416.8" y1="14" x2="416.8" y2="356.5" stroke="#7a0a7a" stroke-width="2" stroke-dasharray="3.6 1.4"/>
<line x1="296.5" y1="107.6" x2="261.17" y2="120.82" stroke="#ff1010" stroke-width="2.3"/>
<path d="M254.8,123.2 L260.7,116.72 L263.51,124.21 Z" fill="#ff1010"/>
<line x1="286.3" y1="161.7" x2="254.62" y2="138.97" stroke="#2020e6" stroke-width="2.4"/>
<path d="M249.1,135 L257.77,136.3 L253.1,142.8 Z" fill="#2020e6"/>
<text class="r" x="297.1" y="112.5" font-family="Liberation Sans, sans-serif" font-weight="bold" font-size="13" fill="#ff1010">A</text>
<text class="b" x="287.6" y="166.2" font-family="Liberation Sans, sans-serif" font-weight="bold" font-size="13" fill="#2020e6">B</text>
<rect x="199.6" y="9.5" width="266.9" height="364.8" fill="none" stroke="#000" stroke-width="2.4"/>
<line x1="194.8" y1="374.3" x2="199.6" y2="374.3" stroke="#000" stroke-width="2.4"/>
<line x1="207.5" y1="374.3" x2="207.5" y2="379.6" stroke="#000" stroke-width="1.9"/>
<line x1="333.6" y1="374.3" x2="333.6" y2="379.6" stroke="#000" stroke-width="1.9"/>
<line x1="459" y1="374.3" x2="459" y2="379.6" stroke="#000" stroke-width="1.9"/>
<text x="207.4" y="392.6" font-family="Liberation Sans, sans-serif" font-size="13.6" text-anchor="middle">0.0</text>
<text x="333.6" y="392.6" font-family="Liberation Sans, sans-serif" font-size="13.6" text-anchor="middle">0.5</text>
<text x="458.6" y="392.6" font-family="Liberation Sans, sans-serif" font-size="13.6" text-anchor="middle">1.0</text>
<text x="293.2" y="410.1" font-family="Liberation Sans, sans-serif" font-size="14.5" font-style="italic">P</text>
<text x="302.8" y="414.9" font-family="Liberation Sans, sans-serif" font-size="10.5" font-style="italic">ox</text>
<text x="317.9" y="410.1" font-family="Liberation Sans, sans-serif" font-size="14.5">=</text>
<text x="331.7" y="410.1" font-family="Liberation Sans, sans-serif" font-size="14.5">1-</text>
<text x="347.4" y="410.1" font-family="Liberation Sans, sans-serif" font-size="14.5" font-style="italic">P</text>
<text x="358" y="414.9" font-family="Liberation Sans, sans-serif" font-size="10.5" font-style="italic">red</text>
<path d="M195.07,20.9 L194.64,20.58 L194.17,20.3 L193.66,20.07 L193.12,19.89 L192.54,19.76 L191.96,19.76 L191.44,19.98 L190.94,20.25 L190.47,20.57 L190.03,20.93 L189.63,21.34 L189.26,21.78 L188.92,22.25 L188.62,22.76 L188.35,23.3 L188.12,23.86 L187.92,24.46 L187.75,25.08 L187.61,25.73 L187.5,26.41 L187.42,27.11 L187.37,27.84 L187.34,28.61 L187.35,29.39 L187.34,30.86 L187.33,32.31 L187.3,33.75 L187.26,35.17 L187.21,36.57 L187.15,37.94 L187.09,39.3 L187.02,40.63 L186.94,41.92 L186.86,43.19 L186.77,44.43 L186.68,45.63 L186.59,46.79 L186.49,47.91 L186.39,48.99 L186.29,50.02 L186.19,51.01 L186.09,51.94 L186,52.83 L185.9,53.66 L185.81,54.43 L185.72,55.14 L185.64,55.79 L185.58,56.29 L185.56,56.33 L185.5,56.48 L185.42,56.63 L185.34,56.8 L185.24,56.97 L185.12,57.15 L184.98,57.34 L184.82,57.52 L184.64,57.71 L184.45,57.9 L184.23,58.08 L184.01,58.26 L183.77,58.44 L183.52,58.61 L183.26,58.78 L182.99,58.94 L182.71,59.09 L182.43,59.24 L182.14,59.38 L181.86,59.51 L181.57,59.63 L181.28,59.74 L181,59.84 L179.8,61.1 L181,62.36 L181.28,62.46 L181.57,62.57 L181.86,62.69 L182.14,62.82 L182.43,62.96 L182.71,63.11 L182.99,63.26 L183.26,63.42 L183.52,63.59 L183.77,63.76 L184.01,63.94 L184.23,64.12 L184.45,64.3 L184.64,64.49 L184.82,64.68 L184.98,64.86 L185.12,65.05 L185.24,65.23 L185.34,65.4 L185.42,65.57 L185.5,65.72 L185.56,65.87 L185.58,65.91 L185.64,66.41 L185.72,67.06 L185.81,67.77 L185.9,68.55 L186,69.38 L186.09,70.27 L186.19,71.2 L186.29,72.19 L186.39,73.23 L186.49,74.31 L186.59,75.44 L186.68,76.6 L186.77,77.81 L186.86,79.05 L186.94,80.32 L187.02,81.63 L187.09,82.96 L187.15,84.32 L187.21,85.7 L187.26,87.11 L187.3,88.53 L187.33,89.98 L187.34,91.43 L187.35,92.91 L187.34,93.69 L187.37,94.46 L187.42,95.19 L187.5,95.89 L187.61,96.57 L187.75,97.22 L187.92,97.84 L188.12,98.44 L188.35,99 L188.62,99.54 L188.92,100.05 L189.26,100.52 L189.63,100.96 L190.03,101.37 L190.47,101.73 L190.94,102.05 L191.44,102.32 L191.96,102.54 L192.54,102.54 L193.12,102.41 L193.66,102.23 L194.17,102 L194.64,101.72 L195.07,101.4 L194.93,100.4 L194.49,100.2 L194.13,99.97 L193.82,99.72 L193.56,99.45 L193.37,99.18 L193.21,98.96 L193.02,98.89 L192.83,98.8 L192.65,98.7 L192.48,98.57 L192.3,98.42 L192.12,98.23 L191.94,98.01 L191.77,97.75 L191.6,97.45 L191.44,97.11 L191.28,96.73 L191.14,96.31 L191.02,95.85 L190.9,95.34 L190.81,94.79 L190.74,94.2 L190.68,93.57 L190.65,92.89 L190.64,91.4 L190.63,89.92 L190.6,88.46 L190.56,87.01 L190.51,85.58 L190.45,84.17 L190.39,82.79 L190.31,81.44 L190.24,80.12 L190.15,78.82 L190.06,77.57 L189.97,76.35 L189.87,75.16 L189.78,74.02 L189.68,72.92 L189.58,71.87 L189.47,70.87 L189.38,69.92 L189.28,69.01 L189.18,68.17 L189.09,67.38 L189,66.65 L188.91,65.98 L188.82,65.29 L188.67,64.76 L188.5,64.36 L188.31,63.97 L188.07,63.62 L187.82,63.28 L187.54,62.97 L187.25,62.68 L186.94,62.41 L186.63,62.16 L186.3,61.92 L185.96,61.7 L185.62,61.49 L185.27,61.29 L184.91,61.11 L184.55,60.94 L184.18,60.78 L183.82,60.64 L183.45,60.5 L183.08,60.38 L182.71,60.27 L182.35,60.17 L181.99,60.08 L181.63,60 L182.2,61.1 L181.63,62.2 L181.99,62.12 L182.35,62.03 L182.71,61.93 L183.08,61.82 L183.45,61.7 L183.82,61.56 L184.18,61.42 L184.55,61.26 L184.91,61.09 L185.27,60.91 L185.62,60.71 L185.96,60.5 L186.3,60.28 L186.63,60.04 L186.94,59.79 L187.25,59.52 L187.54,59.23 L187.82,58.92 L188.07,58.58 L188.31,58.23 L188.5,57.84 L188.67,57.44 L188.82,56.91 L188.91,56.22 L189,55.55 L189.09,54.82 L189.18,54.04 L189.28,53.19 L189.37,52.29 L189.47,51.34 L189.58,50.34 L189.68,49.29 L189.78,48.2 L189.87,47.06 L189.97,45.89 L190.06,44.67 L190.15,43.42 L190.24,42.13 L190.31,40.81 L190.39,39.46 L190.45,38.09 L190.51,36.69 L190.56,35.27 L190.6,33.83 L190.63,32.36 L190.64,30.89 L190.65,29.41 L190.68,28.73 L190.74,28.1 L190.81,27.51 L190.9,26.96 L191.02,26.45 L191.14,25.99 L191.28,25.57 L191.44,25.19 L191.6,24.85 L191.77,24.55 L191.94,24.29 L192.12,24.07 L192.3,23.88 L192.48,23.73 L192.65,23.6 L192.83,23.5 L193.02,23.41 L193.21,23.34 L193.37,23.12 L193.56,22.85 L193.82,22.58 L194.13,22.33 L194.49,22.1 L194.93,21.9 Z" fill="#000"/>
<circle cx="195" cy="21.4" r="0.6" fill="#000"/>
<circle cx="195" cy="100.9" r="0.6" fill="#000"/>
<path d="M195.26,105.9 L194.82,105.7 L194.32,105.56 L193.81,105.47 L193.28,105.44 L192.73,105.49 L192.18,105.61 L191.62,105.8 L191.07,106.06 L190.53,106.4 L190.01,106.79 L189.5,107.25 L189,107.77 L188.59,108.38 L188.33,109.07 L188.1,109.81 L187.9,110.59 L187.72,111.4 L187.58,112.26 L187.46,113.17 L187.37,114.12 L187.3,115.12 L187.26,116.16 L187.25,117.26 L187.26,118.39 L187.36,123.48 L187.44,128.58 L187.45,133.68 L187.37,138.75 L187.28,143.78 L187.17,148.75 L187.04,153.64 L186.91,158.43 L186.76,163.11 L186.6,167.66 L186.44,172.06 L186.28,176.28 L186.11,180.32 L185.94,184.15 L185.77,187.75 L185.6,191.12 L185.43,194.22 L185.27,197.04 L185.16,199.56 L185.06,201.77 L184.97,203.64 L184.89,205.15 L184.82,206.28 L184.76,206.94 L184.75,206.95 L184.69,207.12 L184.62,207.29 L184.53,207.46 L184.43,207.64 L184.32,207.81 L184.19,207.98 L184.04,208.15 L183.88,208.32 L183.71,208.49 L183.52,208.65 L183.33,208.81 L183.12,208.97 L182.9,209.12 L182.67,209.26 L182.43,209.4 L182.18,209.54 L181.93,209.66 L181.67,209.78 L181.41,209.89 L181.15,209.99 L180.88,210.08 L180.62,210.17 L179.2,211.7 L180.62,213.23 L180.88,213.32 L181.15,213.41 L181.41,213.51 L181.67,213.62 L181.93,213.74 L182.18,213.86 L182.43,214 L182.67,214.14 L182.9,214.28 L183.12,214.43 L183.33,214.59 L183.52,214.75 L183.71,214.91 L183.88,215.08 L184.04,215.25 L184.19,215.42 L184.32,215.59 L184.43,215.76 L184.53,215.94 L184.62,216.11 L184.69,216.28 L184.75,216.45 L184.76,216.46 L184.82,217.12 L184.89,218.25 L184.97,219.76 L185.06,221.63 L185.16,223.84 L185.27,226.36 L185.43,229.18 L185.6,232.28 L185.77,235.65 L185.94,239.25 L186.11,243.08 L186.28,247.12 L186.44,251.34 L186.6,255.74 L186.76,260.29 L186.91,264.97 L187.04,269.76 L187.17,274.65 L187.28,279.62 L187.37,284.65 L187.45,289.72 L187.44,294.82 L187.36,299.92 L187.26,305.01 L187.25,306.14 L187.26,307.24 L187.3,308.28 L187.37,309.28 L187.46,310.23 L187.58,311.14 L187.72,312 L187.9,312.81 L188.1,313.59 L188.33,314.33 L188.59,315.02 L189,315.63 L189.5,316.15 L190.01,316.61 L190.53,317 L191.07,317.34 L191.62,317.6 L192.18,317.79 L192.73,317.91 L193.28,317.96 L193.81,317.93 L194.32,317.84 L194.82,317.7 L195.26,317.5 L195.14,316.5 L194.72,316.41 L194.38,316.28 L194.08,316.12 L193.83,315.93 L193.62,315.72 L193.46,315.49 L193.32,315.25 L193.21,314.98 L193.12,314.68 L193.05,314.35 L193,313.98 L192.97,313.57 L192.89,313.15 L192.71,312.72 L192.53,312.23 L192.36,311.68 L192.2,311.06 L192.05,310.38 L191.92,309.63 L191.8,308.83 L191.71,307.96 L191.63,307.04 L191.57,306.05 L191.54,304.99 L191.41,299.9 L191.26,294.78 L191.15,289.67 L191.07,284.59 L190.98,279.55 L190.87,274.56 L190.74,269.66 L190.6,264.86 L190.46,260.17 L190.3,255.61 L190.14,251.2 L189.97,246.97 L189.8,242.92 L189.63,239.08 L189.46,235.47 L189.29,232.09 L189.13,228.98 L188.97,226.15 L188.78,223.62 L188.6,221.4 L188.43,219.52 L188.28,217.98 L188.15,216.8 L188.04,215.94 L187.88,215.38 L187.73,215 L187.55,214.63 L187.35,214.28 L187.13,213.95 L186.9,213.63 L186.65,213.33 L186.38,213.04 L186.1,212.77 L185.81,212.51 L185.51,212.27 L185.2,212.04 L184.88,211.82 L184.55,211.62 L184.22,211.43 L183.88,211.25 L183.54,211.08 L183.19,210.93 L182.84,210.78 L182.48,210.65 L182.13,210.53 L181.77,210.42 L181.41,210.33 L182.2,211.7 L181.41,213.07 L181.77,212.98 L182.13,212.87 L182.48,212.75 L182.84,212.62 L183.19,212.47 L183.54,212.32 L183.88,212.15 L184.22,211.97 L184.55,211.78 L184.88,211.58 L185.2,211.36 L185.51,211.13 L185.81,210.89 L186.1,210.63 L186.38,210.36 L186.65,210.07 L186.9,209.77 L187.13,209.45 L187.35,209.12 L187.55,208.77 L187.73,208.4 L187.88,208.02 L188.04,207.46 L188.15,206.6 L188.28,205.42 L188.43,203.88 L188.6,202 L188.78,199.78 L188.97,197.25 L189.13,194.42 L189.29,191.31 L189.46,187.93 L189.63,184.32 L189.8,180.48 L189.97,176.43 L190.14,172.2 L190.3,167.79 L190.46,163.23 L190.6,158.54 L190.74,153.74 L190.87,148.84 L190.98,143.85 L191.07,138.81 L191.15,133.73 L191.26,128.62 L191.41,123.5 L191.54,118.41 L191.57,117.35 L191.63,116.36 L191.71,115.44 L191.8,114.57 L191.92,113.77 L192.05,113.02 L192.2,112.34 L192.36,111.72 L192.53,111.17 L192.71,110.68 L192.89,110.25 L192.97,109.83 L193,109.42 L193.05,109.05 L193.12,108.72 L193.21,108.42 L193.32,108.15 L193.46,107.91 L193.62,107.68 L193.83,107.47 L194.08,107.28 L194.38,107.12 L194.72,106.99 L195.14,106.9 Z" fill="#000"/>
<circle cx="195.2" cy="106.4" r="0.6" fill="#000"/>
<circle cx="195.2" cy="317" r="0.6" fill="#000"/>
<path d="M194.97,328.81 L194.55,328.56 L194.1,328.34 L193.64,328.15 L193.17,328.06 L192.71,328.11 L192.26,328.2 L191.83,328.31 L191.41,328.45 L191.01,328.63 L190.62,328.83 L190.26,329.07 L189.91,329.33 L189.59,329.62 L189.3,329.94 L189.03,330.29 L188.79,330.66 L188.58,331.05 L188.4,331.46 L188.25,331.89 L188.13,332.34 L188.03,332.8 L187.96,333.29 L187.91,333.78 L187.9,334.29 L187.9,334.97 L187.89,335.61 L187.89,336.21 L187.88,336.78 L187.86,337.31 L187.84,337.82 L187.82,338.31 L187.8,338.77 L187.78,339.21 L187.75,339.64 L187.71,340.06 L187.68,340.47 L187.64,340.88 L187.6,341.28 L187.55,341.68 L187.51,342.09 L187.46,342.51 L187.4,342.93 L187.34,343.37 L187.28,343.83 L187.22,344.3 L187.15,344.8 L187.08,345.32 L187.02,345.8 L186.98,345.89 L186.9,346.05 L186.78,346.23 L186.63,346.42 L186.43,346.61 L186.2,346.81 L185.94,347.02 L185.64,347.22 L185.32,347.42 L184.98,347.61 L184.62,347.8 L184.24,347.98 L183.85,348.16 L183.47,348.37 L183.08,348.57 L182.68,348.76 L182.29,348.95 L181.89,349.13 L181.51,349.29 L181.13,349.45 L180.76,349.6 L180.41,349.73 L180.08,349.85 L179.35,350.5 L180.08,351.15 L180.41,351.27 L180.76,351.4 L181.13,351.55 L181.51,351.71 L181.89,351.87 L182.29,352.05 L182.68,352.24 L183.08,352.43 L183.47,352.63 L183.85,352.84 L184.24,353.02 L184.62,353.2 L184.98,353.39 L185.32,353.58 L185.64,353.78 L185.94,353.98 L186.2,354.19 L186.43,354.39 L186.63,354.58 L186.78,354.77 L186.9,354.95 L186.98,355.11 L187.02,355.2 L187.08,355.68 L187.15,356.2 L187.22,356.7 L187.28,357.18 L187.34,357.63 L187.4,358.07 L187.46,358.5 L187.51,358.92 L187.55,359.33 L187.6,359.74 L187.64,360.15 L187.68,360.56 L187.71,360.97 L187.75,361.4 L187.78,361.83 L187.8,362.28 L187.82,362.75 L187.84,363.24 L187.86,363.76 L187.88,364.3 L187.89,364.87 L187.89,365.48 L187.9,366.12 L187.9,366.81 L187.91,367.32 L187.96,367.81 L188.03,368.3 L188.13,368.76 L188.25,369.21 L188.4,369.64 L188.58,370.05 L188.79,370.44 L189.03,370.81 L189.3,371.16 L189.59,371.48 L189.91,371.77 L190.26,372.03 L190.62,372.27 L191.01,372.47 L191.41,372.65 L191.83,372.79 L192.26,372.9 L192.71,372.99 L193.17,373.04 L193.64,372.95 L194.1,372.76 L194.55,372.54 L194.97,372.29 L194.83,371.31 L194.39,371.18 L194,371.03 L193.64,370.87 L193.31,370.75 L193,370.73 L192.71,370.69 L192.43,370.64 L192.17,370.56 L191.92,370.47 L191.69,370.36 L191.47,370.24 L191.26,370.09 L191.07,369.94 L190.89,369.76 L190.72,369.56 L190.56,369.35 L190.42,369.11 L190.29,368.85 L190.17,368.57 L190.08,368.27 L190,367.94 L189.94,367.58 L189.91,367.2 L189.9,366.79 L189.9,366.11 L189.89,365.46 L189.89,364.84 L189.87,364.25 L189.86,363.7 L189.84,363.17 L189.82,362.66 L189.8,362.18 L189.77,361.71 L189.74,361.25 L189.71,360.81 L189.67,360.38 L189.63,359.95 L189.59,359.53 L189.54,359.11 L189.49,358.69 L189.44,358.26 L189.39,357.82 L189.33,357.37 L189.27,356.91 L189.2,356.43 L189.13,355.94 L189.06,355.41 L188.98,354.8 L188.82,354.33 L188.62,353.93 L188.38,353.57 L188.11,353.24 L187.8,352.93 L187.47,352.64 L187.11,352.36 L186.73,352.11 L186.34,351.86 L185.93,351.63 L185.51,351.41 L185.09,351.21 L184.65,351.01 L184.19,350.86 L183.73,350.73 L183.27,350.61 L182.82,350.5 L182.38,350.39 L181.94,350.3 L181.52,350.21 L181.12,350.14 L180.73,350.07 L180.37,350.02 L180.45,350.5 L180.37,350.98 L180.73,350.93 L181.12,350.86 L181.52,350.79 L181.94,350.7 L182.38,350.61 L182.82,350.5 L183.27,350.39 L183.73,350.27 L184.19,350.14 L184.65,349.99 L185.09,349.79 L185.51,349.59 L185.93,349.37 L186.34,349.14 L186.73,348.89 L187.11,348.64 L187.47,348.36 L187.8,348.07 L188.11,347.76 L188.38,347.43 L188.62,347.07 L188.82,346.67 L188.98,346.2 L189.06,345.59 L189.13,345.07 L189.2,344.57 L189.27,344.09 L189.33,343.63 L189.39,343.19 L189.44,342.76 L189.49,342.33 L189.54,341.91 L189.59,341.49 L189.63,341.07 L189.67,340.65 L189.71,340.22 L189.74,339.79 L189.77,339.34 L189.8,338.88 L189.82,338.4 L189.84,337.89 L189.86,337.37 L189.87,336.82 L189.89,336.24 L189.89,335.63 L189.9,334.98 L189.9,334.31 L189.91,333.9 L189.94,333.52 L190,333.16 L190.08,332.83 L190.17,332.53 L190.29,332.25 L190.42,331.99 L190.56,331.75 L190.72,331.54 L190.89,331.34 L191.07,331.16 L191.26,331.01 L191.47,330.86 L191.69,330.74 L191.92,330.63 L192.17,330.54 L192.43,330.46 L192.71,330.41 L193,330.37 L193.31,330.35 L193.64,330.23 L194,330.07 L194.39,329.92 L194.83,329.79 Z" fill="#000"/>
<circle cx="194.9" cy="329.3" r="0.6" fill="#000"/>
<circle cx="194.9" cy="371.8" r="0.6" fill="#000"/>
<text transform="translate(172.4,57) rotate(-90)" font-family="Liberation Sans, sans-serif" font-size="13.5" text-anchor="middle">Resting</text>
<text transform="translate(172.4,211.6) rotate(-90)" font-family="Liberation Sans, sans-serif" font-size="13.5" text-anchor="middle">Turning-Over</text>
<text transform="translate(172.4,350.5) rotate(-90)" font-family="Liberation Sans, sans-serif" font-size="13.5" text-anchor="middle">Resting</text>
<rect x="471.7" y="36.8" width="9.4" height="8.6" fill="#ff8080" stroke="#333" stroke-width="0.9"/>
<text x="490.8" y="45.7" font-family="Liberation Sans, sans-serif" font-size="13">Nothing</text>
<rect x="471.7" y="83.2" width="9.4" height="8.6" fill="#ffa04a" stroke="#333" stroke-width="0.9"/>
<text x="490.8" y="92.1" font-family="Liberation Sans, sans-serif" font-size="13">AscPes</text>
<rect x="471.7" y="128" width="9.4" height="8.6" fill="#c8be28" stroke="#333" stroke-width="0.9"/>
<text x="490.8" y="136.9" font-family="Liberation Sans, sans-serif" font-size="13">5uM</text>
<rect x="471.7" y="175" width="9.4" height="8.6" fill="#20c020" stroke="#333" stroke-width="0.9"/>
<text x="490.8" y="183.9" font-family="Liberation Sans, sans-serif" font-size="13">50uM</text>
<rect x="471.7" y="219.4" width="9.4" height="8.6" fill="#20a0f0" stroke="#333" stroke-width="0.9"/>
<text x="490.8" y="228.3" font-family="Liberation Sans, sans-serif" font-size="13">500uM</text>
<rect x="471.7" y="265.2" width="9.4" height="8.6" fill="#ffc878" stroke="#333" stroke-width="0.9"/>
<text x="490.8" y="274.1" font-family="Liberation Sans, sans-serif" font-size="13">1mM</text>
<rect x="471.7" y="311.4" width="9.4" height="8.6" fill="#e060f0" stroke="#333" stroke-width="0.9"/>
<text x="490.8" y="320.3" font-family="Liberation Sans, sans-serif" font-size="13">5mM</text>
<rect x="471.7" y="355" width="9.4" height="8.6" fill="#ffff80" stroke="#333" stroke-width="0.9"/>
<text x="490.6" y="363.9" font-family="Liberation Sans, sans-serif" font-size="13">Just NO<tspan font-size="9.5" dy="3">2</tspan><tspan font-size="9.5" dy="-8.5">-</tspan></text>
</svg>
</body></html>
